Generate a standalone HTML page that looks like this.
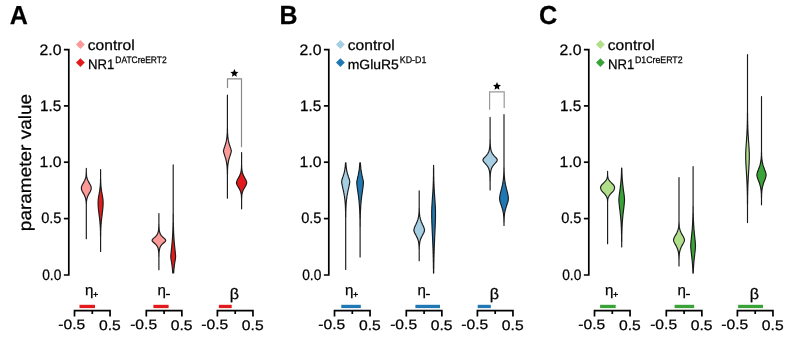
<!DOCTYPE html><html><head><meta charset="utf-8"><style>html,body{margin:0;padding:0;background:#fff;width:793px;height:337px;overflow:hidden;position:relative}text{font-family:"Liberation Sans",sans-serif;text-rendering:geometricPrecision;stroke:#000;stroke-width:0.25px}</style></head><body><svg width="793" height="337" viewBox="0 0 793 337" style="position:absolute;left:0;top:0;will-change:transform">
<rect width="793" height="337" fill="#fff"/>
<text x="9.63" y="24.20" font-family="Liberation Sans, sans-serif" font-weight="bold" font-size="26.06" textLength="18.09" lengthAdjust="spacingAndGlyphs" fill="#000">A</text>
<g stroke="#000" stroke-width="1.7" fill="none" stroke-linecap="butt">
<path d="M63.9,49.6 H68.8 V275.0 H63.9"/>
<path d="M63.9,105.9 H68.8"/>
<path d="M63.9,162.2 H68.8"/>
<path d="M63.9,218.6 H68.8"/>
</g>
<text x="39.49" y="54.60" font-family="Liberation Sans, sans-serif" font-weight="normal" font-size="15.11" textLength="21.97" lengthAdjust="spacingAndGlyphs" fill="#000">2.0</text>
<text x="39.91" y="110.69" font-family="Liberation Sans, sans-serif" font-weight="normal" font-size="15.29" textLength="21.37" lengthAdjust="spacingAndGlyphs" fill="#000">1.5</text>
<text x="39.64" y="166.95" font-family="Liberation Sans, sans-serif" font-weight="normal" font-size="15.13" textLength="21.93" lengthAdjust="spacingAndGlyphs" fill="#000">1.0</text>
<text x="41.19" y="223.28" font-family="Liberation Sans, sans-serif" font-weight="normal" font-size="15.19" textLength="20.30" lengthAdjust="spacingAndGlyphs" fill="#000">0.5</text>
<text x="42.17" y="279.74" font-family="Liberation Sans, sans-serif" font-weight="normal" font-size="15.07" textLength="19.16" lengthAdjust="spacingAndGlyphs" fill="#000">0.0</text>
<path d="M80.4,40.1 L84.8,44.5 L80.4,48.9 L76.0,44.5Z" fill="#fb9a99" transform="translate(0,0)"/>
<path d="M80.4,58.2 L84.8,62.6 L80.4,67.0 L76.0,62.6Z" fill="#e31a1c" transform="translate(0,0)"/>
<text x="87.81" y="49.80" font-family="Liberation Sans, sans-serif" font-weight="normal" font-size="14.63" textLength="46.81" lengthAdjust="spacingAndGlyphs" fill="#000">control</text>
<text x="87.89" y="69.03" font-family="Liberation Sans, sans-serif" font-weight="normal" font-size="13.68" textLength="26.33" lengthAdjust="spacingAndGlyphs" fill="#000">NR1</text>
<text x="115.29" y="63.03" font-family="Liberation Sans, sans-serif" font-weight="normal" font-size="9.44" textLength="51.35" lengthAdjust="spacingAndGlyphs" fill="#000">DATCreERT2</text>
<path d="M74.50,316.6 V310.7 H110.05 V316.6 M92.30,310.7 V314" stroke="#000" stroke-width="1.7" fill="none"/>
<text x="58.36" y="329.36" font-family="Liberation Sans, sans-serif" font-weight="normal" font-size="13.58" textLength="26.96" lengthAdjust="spacingAndGlyphs" fill="#000">-0.5</text>
<text x="98.94" y="329.65" font-family="Liberation Sans, sans-serif" font-weight="normal" font-size="13.83" textLength="21.79" lengthAdjust="spacingAndGlyphs" fill="#000">0.5</text>
<rect x="79.5" y="304.8" width="15.5" height="3.3" fill="#e31a1c"/>
<path d="M146.30,316.6 V310.7 H181.85 V316.6 M164.10,310.7 V314" stroke="#000" stroke-width="1.7" fill="none"/>
<text x="130.16" y="329.36" font-family="Liberation Sans, sans-serif" font-weight="normal" font-size="13.58" textLength="26.96" lengthAdjust="spacingAndGlyphs" fill="#000">-0.5</text>
<text x="170.74" y="329.65" font-family="Liberation Sans, sans-serif" font-weight="normal" font-size="13.83" textLength="21.79" lengthAdjust="spacingAndGlyphs" fill="#000">0.5</text>
<rect x="153.4" y="304.8" width="15.2" height="3.3" fill="#e31a1c"/>
<path d="M217.40,316.6 V310.7 H252.95 V316.6 M235.20,310.7 V314" stroke="#000" stroke-width="1.7" fill="none"/>
<text x="201.26" y="329.36" font-family="Liberation Sans, sans-serif" font-weight="normal" font-size="13.58" textLength="26.96" lengthAdjust="spacingAndGlyphs" fill="#000">-0.5</text>
<text x="241.84" y="329.65" font-family="Liberation Sans, sans-serif" font-weight="normal" font-size="13.83" textLength="21.79" lengthAdjust="spacingAndGlyphs" fill="#000">0.5</text>
<rect x="218.9" y="304.8" width="12.8" height="3.3" fill="#e31a1c"/>
<text x="85.02" y="294.91" font-family="Liberation Sans, sans-serif" font-weight="normal" font-size="14.76" textLength="8.41" lengthAdjust="spacingAndGlyphs" fill="#000">η</text>
<path d="M93.30,294.45 H98.00 M95.65,292.1 V296.8" stroke="#000" stroke-width="1" fill="none"/>
<text x="157.62" y="294.91" font-family="Liberation Sans, sans-serif" font-weight="normal" font-size="14.76" textLength="8.41" lengthAdjust="spacingAndGlyphs" fill="#000">η</text>
<path d="M165.90,294.5 H169.90" stroke="#000" stroke-width="1.3" fill="none"/>
<text x="229.87" y="298.89" font-family="Liberation Sans, sans-serif" font-weight="normal" font-size="15.28" textLength="9.25" lengthAdjust="spacingAndGlyphs" fill="#000">β</text>
<text x="279.52" y="24.20" font-family="Liberation Sans, sans-serif" font-weight="bold" font-size="26.32" textLength="17.99" lengthAdjust="spacingAndGlyphs" fill="#000">B</text>
<g stroke="#000" stroke-width="1.7" fill="none" stroke-linecap="butt">
<path d="M323.9,49.6 H328.8 V275.0 H323.9"/>
<path d="M323.9,105.9 H328.8"/>
<path d="M323.9,162.2 H328.8"/>
<path d="M323.9,218.6 H328.8"/>
</g>
<text x="299.49" y="54.60" font-family="Liberation Sans, sans-serif" font-weight="normal" font-size="15.11" textLength="21.97" lengthAdjust="spacingAndGlyphs" fill="#000">2.0</text>
<text x="299.91" y="110.69" font-family="Liberation Sans, sans-serif" font-weight="normal" font-size="15.29" textLength="21.37" lengthAdjust="spacingAndGlyphs" fill="#000">1.5</text>
<text x="299.64" y="166.95" font-family="Liberation Sans, sans-serif" font-weight="normal" font-size="15.13" textLength="21.93" lengthAdjust="spacingAndGlyphs" fill="#000">1.0</text>
<text x="301.19" y="223.28" font-family="Liberation Sans, sans-serif" font-weight="normal" font-size="15.19" textLength="20.30" lengthAdjust="spacingAndGlyphs" fill="#000">0.5</text>
<text x="302.17" y="279.74" font-family="Liberation Sans, sans-serif" font-weight="normal" font-size="15.07" textLength="19.16" lengthAdjust="spacingAndGlyphs" fill="#000">0.0</text>
<path d="M80.4,40.1 L84.8,44.5 L80.4,48.9 L76.0,44.5Z" fill="#a6cee3" transform="translate(260,0)"/>
<path d="M80.4,58.2 L84.8,62.6 L80.4,67.0 L76.0,62.6Z" fill="#1f78b4" transform="translate(260,0)"/>
<text x="347.81" y="49.80" font-family="Liberation Sans, sans-serif" font-weight="normal" font-size="14.63" textLength="46.81" lengthAdjust="spacingAndGlyphs" fill="#000">control</text>
<text x="347.75" y="68.63" font-family="Liberation Sans, sans-serif" font-weight="normal" font-size="13.30" textLength="51.14" lengthAdjust="spacingAndGlyphs" fill="#000">mGluR5</text>
<text x="399.76" y="63.03" font-family="Liberation Sans, sans-serif" font-weight="normal" font-size="9.64" textLength="26.60" lengthAdjust="spacingAndGlyphs" fill="#000">KD-D1</text>
<path d="M334.50,316.6 V310.7 H370.05 V316.6 M352.30,310.7 V314" stroke="#000" stroke-width="1.7" fill="none"/>
<text x="318.36" y="329.36" font-family="Liberation Sans, sans-serif" font-weight="normal" font-size="13.58" textLength="26.96" lengthAdjust="spacingAndGlyphs" fill="#000">-0.5</text>
<text x="358.94" y="329.65" font-family="Liberation Sans, sans-serif" font-weight="normal" font-size="13.83" textLength="21.79" lengthAdjust="spacingAndGlyphs" fill="#000">0.5</text>
<rect x="341.3" y="304.8" width="19.5" height="3.3" fill="#1f78b4"/>
<path d="M406.30,316.6 V310.7 H441.85 V316.6 M424.10,310.7 V314" stroke="#000" stroke-width="1.7" fill="none"/>
<text x="390.16" y="329.36" font-family="Liberation Sans, sans-serif" font-weight="normal" font-size="13.58" textLength="26.96" lengthAdjust="spacingAndGlyphs" fill="#000">-0.5</text>
<text x="430.74" y="329.65" font-family="Liberation Sans, sans-serif" font-weight="normal" font-size="13.83" textLength="21.79" lengthAdjust="spacingAndGlyphs" fill="#000">0.5</text>
<rect x="415.4" y="304.8" width="24.6" height="3.3" fill="#1f78b4"/>
<path d="M477.40,316.6 V310.7 H512.95 V316.6 M495.20,310.7 V314" stroke="#000" stroke-width="1.7" fill="none"/>
<text x="461.26" y="329.36" font-family="Liberation Sans, sans-serif" font-weight="normal" font-size="13.58" textLength="26.96" lengthAdjust="spacingAndGlyphs" fill="#000">-0.5</text>
<text x="501.84" y="329.65" font-family="Liberation Sans, sans-serif" font-weight="normal" font-size="13.83" textLength="21.79" lengthAdjust="spacingAndGlyphs" fill="#000">0.5</text>
<rect x="477.7" y="304.8" width="13.1" height="3.3" fill="#1f78b4"/>
<text x="345.02" y="294.91" font-family="Liberation Sans, sans-serif" font-weight="normal" font-size="14.76" textLength="8.41" lengthAdjust="spacingAndGlyphs" fill="#000">η</text>
<path d="M353.30,294.45 H358.00 M355.65,292.1 V296.8" stroke="#000" stroke-width="1" fill="none"/>
<text x="417.62" y="294.91" font-family="Liberation Sans, sans-serif" font-weight="normal" font-size="14.76" textLength="8.41" lengthAdjust="spacingAndGlyphs" fill="#000">η</text>
<path d="M425.90,294.5 H429.90" stroke="#000" stroke-width="1.3" fill="none"/>
<text x="489.87" y="298.89" font-family="Liberation Sans, sans-serif" font-weight="normal" font-size="15.28" textLength="9.25" lengthAdjust="spacingAndGlyphs" fill="#000">β</text>
<text x="538.89" y="24.41" font-family="Liberation Sans, sans-serif" font-weight="bold" font-size="26.05" textLength="18.21" lengthAdjust="spacingAndGlyphs" fill="#000">C</text>
<g stroke="#000" stroke-width="1.7" fill="none" stroke-linecap="butt">
<path d="M583.9,49.6 H588.8 V275.0 H583.9"/>
<path d="M583.9,105.9 H588.8"/>
<path d="M583.9,162.2 H588.8"/>
<path d="M583.9,218.6 H588.8"/>
</g>
<text x="559.49" y="54.60" font-family="Liberation Sans, sans-serif" font-weight="normal" font-size="15.11" textLength="21.97" lengthAdjust="spacingAndGlyphs" fill="#000">2.0</text>
<text x="559.91" y="110.69" font-family="Liberation Sans, sans-serif" font-weight="normal" font-size="15.29" textLength="21.37" lengthAdjust="spacingAndGlyphs" fill="#000">1.5</text>
<text x="559.64" y="166.95" font-family="Liberation Sans, sans-serif" font-weight="normal" font-size="15.13" textLength="21.93" lengthAdjust="spacingAndGlyphs" fill="#000">1.0</text>
<text x="561.19" y="223.28" font-family="Liberation Sans, sans-serif" font-weight="normal" font-size="15.19" textLength="20.30" lengthAdjust="spacingAndGlyphs" fill="#000">0.5</text>
<text x="562.17" y="279.74" font-family="Liberation Sans, sans-serif" font-weight="normal" font-size="15.07" textLength="19.16" lengthAdjust="spacingAndGlyphs" fill="#000">0.0</text>
<path d="M80.4,40.1 L84.8,44.5 L80.4,48.9 L76.0,44.5Z" fill="#b0de8a" transform="translate(520,0)"/>
<path d="M80.4,58.2 L84.8,62.6 L80.4,67.0 L76.0,62.6Z" fill="#3aa337" transform="translate(520,0)"/>
<text x="607.81" y="49.80" font-family="Liberation Sans, sans-serif" font-weight="normal" font-size="14.63" textLength="46.81" lengthAdjust="spacingAndGlyphs" fill="#000">control</text>
<text x="607.89" y="69.03" font-family="Liberation Sans, sans-serif" font-weight="normal" font-size="13.68" textLength="26.33" lengthAdjust="spacingAndGlyphs" fill="#000">NR1</text>
<text x="634.97" y="63.03" font-family="Liberation Sans, sans-serif" font-weight="normal" font-size="9.48" textLength="47.58" lengthAdjust="spacingAndGlyphs" fill="#000">D1CreERT2</text>
<path d="M594.50,316.6 V310.7 H630.05 V316.6 M612.30,310.7 V314" stroke="#000" stroke-width="1.7" fill="none"/>
<text x="578.36" y="329.36" font-family="Liberation Sans, sans-serif" font-weight="normal" font-size="13.58" textLength="26.96" lengthAdjust="spacingAndGlyphs" fill="#000">-0.5</text>
<text x="618.94" y="329.65" font-family="Liberation Sans, sans-serif" font-weight="normal" font-size="13.83" textLength="21.79" lengthAdjust="spacingAndGlyphs" fill="#000">0.5</text>
<rect x="600.1" y="304.8" width="15.6" height="3.3" fill="#3aa337"/>
<path d="M666.30,316.6 V310.7 H701.85 V316.6 M684.10,310.7 V314" stroke="#000" stroke-width="1.7" fill="none"/>
<text x="650.16" y="329.36" font-family="Liberation Sans, sans-serif" font-weight="normal" font-size="13.58" textLength="26.96" lengthAdjust="spacingAndGlyphs" fill="#000">-0.5</text>
<text x="690.74" y="329.65" font-family="Liberation Sans, sans-serif" font-weight="normal" font-size="13.83" textLength="21.79" lengthAdjust="spacingAndGlyphs" fill="#000">0.5</text>
<rect x="674.6" y="304.8" width="19.6" height="3.3" fill="#3aa337"/>
<path d="M737.40,316.6 V310.7 H772.95 V316.6 M755.20,310.7 V314" stroke="#000" stroke-width="1.7" fill="none"/>
<text x="721.26" y="329.36" font-family="Liberation Sans, sans-serif" font-weight="normal" font-size="13.58" textLength="26.96" lengthAdjust="spacingAndGlyphs" fill="#000">-0.5</text>
<text x="761.84" y="329.65" font-family="Liberation Sans, sans-serif" font-weight="normal" font-size="13.83" textLength="21.79" lengthAdjust="spacingAndGlyphs" fill="#000">0.5</text>
<rect x="738.1" y="304.8" width="24.9" height="3.3" fill="#3aa337"/>
<text x="605.02" y="294.91" font-family="Liberation Sans, sans-serif" font-weight="normal" font-size="14.76" textLength="8.41" lengthAdjust="spacingAndGlyphs" fill="#000">η</text>
<path d="M613.30,294.45 H618.00 M615.65,292.1 V296.8" stroke="#000" stroke-width="1" fill="none"/>
<text x="677.62" y="294.91" font-family="Liberation Sans, sans-serif" font-weight="normal" font-size="14.76" textLength="8.41" lengthAdjust="spacingAndGlyphs" fill="#000">η</text>
<path d="M685.90,294.5 H689.90" stroke="#000" stroke-width="1.3" fill="none"/>
<text x="749.87" y="298.89" font-family="Liberation Sans, sans-serif" font-weight="normal" font-size="15.28" textLength="9.25" lengthAdjust="spacingAndGlyphs" fill="#000">β</text>
<text transform="translate(30.88,231.16) rotate(-90)" x="0" y="0" font-family="Liberation Sans, sans-serif" font-size="17.50" textLength="137.19" lengthAdjust="spacingAndGlyphs">parameter value</text>
<path d="M227.5,87.9 V78.8 H241.5 V147.2" stroke="#8a8a8a" stroke-width="1.2" fill="none"/>
<path d="M489.6,109.7 V91.9 H504.2 V107.9" stroke="#999" stroke-width="1.2" fill="none"/>
<path d="M234.40,69.10 L235.56,71.70 L238.39,72.00 L236.28,73.91 L236.87,76.70 L234.40,75.27 L231.93,76.70 L232.52,73.91 L230.41,72.00 L233.24,71.70Z" fill="#000"/>
<path d="M497.00,82.10 L498.16,84.70 L500.99,85.00 L498.88,86.91 L499.47,89.70 L497.00,88.27 L494.53,89.70 L495.12,86.91 L493.01,85.00 L495.84,84.70Z" fill="#000"/>
<path d="M86.3,168.3 L86.3,169.0 L86.3,169.7 L86.3,170.4 L86.3,171.1 L86.3,171.8 L86.2,172.5 L86.2,173.2 L86.2,173.9 L86.1,174.6 L86.1,175.3 L86.0,176.0 L85.9,176.7 L85.7,177.5 L85.5,178.2 L85.3,178.9 L85.1,179.6 L84.8,180.3 L84.4,181.0 L84.0,181.7 L83.7,182.4 L83.3,183.1 L82.9,183.8 L82.5,184.5 L82.1,185.2 L81.8,185.9 L81.6,186.6 L81.4,187.3 L81.4,188.0 L81.4,188.7 L81.5,189.4 L81.7,190.1 L82.0,190.8 L82.3,191.5 L82.7,192.2 L83.1,192.9 L83.5,193.6 L83.9,194.3 L84.3,195.1 L84.6,195.8 L84.9,196.5 L85.2,197.2 L85.4,197.9 L85.6,198.6 L85.8,199.3 L85.9,200.0 L86.0,200.7 L86.1,201.4 L86.2,202.1 L86.2,202.8 L86.2,203.5 L86.3,204.2 L86.3,204.9 L86.3,205.6 L86.3,206.3 L86.3,207.0 L86.3,207.7 L86.3,208.4 L86.3,209.1 L86.3,209.8 L86.3,210.5 L86.3,211.2 L86.3,211.9 L86.3,212.7 L86.3,213.4 L86.3,214.1 L86.3,214.8 L86.3,215.5 L86.3,216.2 L86.3,216.9 L86.3,217.6 L86.3,218.3 L86.3,219.0 L86.3,219.7 L86.3,220.4 L86.3,221.1 L86.3,221.8 L86.3,222.5 L86.3,223.2 L86.3,223.9 L86.3,224.6 L86.3,225.3 L86.3,226.0 L86.3,226.7 L86.3,227.4 L86.3,228.1 L86.3,228.8 L86.3,229.5 L86.3,230.3 L86.3,231.0 L86.3,231.7 L86.3,232.4 L86.3,233.1 L86.3,233.8 L86.3,234.5 L86.3,235.2 L86.3,235.9 L86.3,236.6 L86.3,237.3 L86.3,238.0 L86.3,238.7 L86.3,238.7 L86.3,238.0 L86.3,237.3 L86.3,236.6 L86.3,235.9 L86.3,235.2 L86.3,234.5 L86.3,233.8 L86.3,233.1 L86.3,232.4 L86.3,231.7 L86.3,231.0 L86.3,230.3 L86.3,229.5 L86.3,228.8 L86.3,228.1 L86.3,227.4 L86.3,226.7 L86.3,226.0 L86.3,225.3 L86.3,224.6 L86.3,223.9 L86.3,223.2 L86.3,222.5 L86.3,221.8 L86.3,221.1 L86.3,220.4 L86.3,219.7 L86.3,219.0 L86.3,218.3 L86.3,217.6 L86.3,216.9 L86.3,216.2 L86.3,215.5 L86.3,214.8 L86.3,214.1 L86.3,213.4 L86.3,212.7 L86.3,211.9 L86.3,211.2 L86.3,210.5 L86.3,209.8 L86.3,209.1 L86.3,208.4 L86.3,207.7 L86.3,207.0 L86.3,206.3 L86.3,205.6 L86.3,204.9 L86.3,204.2 L86.4,203.5 L86.4,202.8 L86.4,202.1 L86.5,201.4 L86.6,200.7 L86.7,200.0 L86.8,199.3 L87.0,198.6 L87.2,197.9 L87.4,197.2 L87.7,196.5 L88.0,195.8 L88.3,195.1 L88.7,194.3 L89.1,193.6 L89.5,192.9 L89.9,192.2 L90.3,191.5 L90.6,190.8 L90.9,190.1 L91.1,189.4 L91.2,188.7 L91.2,188.0 L91.2,187.3 L91.0,186.6 L90.8,185.9 L90.5,185.2 L90.1,184.5 L89.7,183.8 L89.3,183.1 L88.9,182.4 L88.6,181.7 L88.2,181.0 L87.8,180.3 L87.5,179.6 L87.3,178.9 L87.1,178.2 L86.9,177.5 L86.7,176.7 L86.6,176.0 L86.5,175.3 L86.5,174.6 L86.4,173.9 L86.4,173.2 L86.4,172.5 L86.3,171.8 L86.3,171.1 L86.3,170.4 L86.3,169.7 L86.3,169.0 L86.3,168.3Z" fill="#fb9a99" stroke="#1a1a1a" stroke-width="1.15" stroke-linejoin="round"/>
<path d="M100.6,169.5 L100.6,170.2 L100.6,170.9 L100.6,171.6 L100.6,172.3 L100.6,173.0 L100.6,173.7 L100.6,174.4 L100.6,175.1 L100.6,175.8 L100.6,176.5 L100.6,177.2 L100.6,177.9 L100.6,178.6 L100.5,179.3 L100.5,180.0 L100.5,180.7 L100.5,181.4 L100.5,182.1 L100.4,182.8 L100.4,183.5 L100.4,184.2 L100.3,184.9 L100.3,185.6 L100.2,186.3 L100.1,187.0 L100.1,187.7 L100.0,188.4 L99.9,189.1 L99.8,189.8 L99.7,190.5 L99.6,191.2 L99.5,191.9 L99.3,192.6 L99.2,193.3 L99.1,194.0 L99.0,194.7 L98.8,195.4 L98.7,196.1 L98.6,196.8 L98.5,197.5 L98.4,198.2 L98.3,198.9 L98.2,199.6 L98.2,200.3 L98.1,201.0 L98.1,201.7 L98.1,202.4 L98.1,203.1 L98.1,203.8 L98.1,204.5 L98.1,205.2 L98.2,205.9 L98.2,206.6 L98.3,207.3 L98.3,208.0 L98.4,208.7 L98.5,209.4 L98.5,210.1 L98.6,210.8 L98.7,211.5 L98.8,212.2 L98.9,212.9 L99.0,213.6 L99.0,214.3 L99.1,215.0 L99.2,215.7 L99.3,216.4 L99.4,217.1 L99.5,217.8 L99.6,218.5 L99.6,219.2 L99.7,219.9 L99.8,220.6 L99.9,221.3 L99.9,222.0 L100.0,222.7 L100.0,223.4 L100.1,224.1 L100.2,224.8 L100.2,225.5 L100.2,226.2 L100.3,226.9 L100.3,227.6 L100.4,228.3 L100.4,229.0 L100.4,229.7 L100.4,230.4 L100.5,231.1 L100.5,231.8 L100.5,232.5 L100.5,233.2 L100.5,233.9 L100.5,234.6 L100.5,235.3 L100.5,236.0 L100.6,236.7 L100.6,237.4 L100.6,238.1 L100.6,238.8 L100.6,239.5 L100.6,240.2 L100.6,240.9 L100.6,241.6 L100.6,242.3 L100.6,243.0 L100.6,243.7 L100.6,244.4 L100.6,245.1 L100.6,245.8 L100.6,246.5 L100.6,247.2 L100.6,247.9 L100.6,248.6 L100.6,249.3 L100.6,250.0 L100.6,250.7 L100.6,251.4 L100.6,251.4 L100.6,250.7 L100.6,250.0 L100.6,249.3 L100.6,248.6 L100.6,247.9 L100.6,247.2 L100.6,246.5 L100.6,245.8 L100.6,245.1 L100.6,244.4 L100.6,243.7 L100.6,243.0 L100.6,242.3 L100.6,241.6 L100.6,240.9 L100.6,240.2 L100.6,239.5 L100.6,238.8 L100.6,238.1 L100.6,237.4 L100.6,236.7 L100.7,236.0 L100.7,235.3 L100.7,234.6 L100.7,233.9 L100.7,233.2 L100.7,232.5 L100.7,231.8 L100.7,231.1 L100.8,230.4 L100.8,229.7 L100.8,229.0 L100.8,228.3 L100.9,227.6 L100.9,226.9 L101.0,226.2 L101.0,225.5 L101.0,224.8 L101.1,224.1 L101.2,223.4 L101.2,222.7 L101.3,222.0 L101.3,221.3 L101.4,220.6 L101.5,219.9 L101.6,219.2 L101.6,218.5 L101.7,217.8 L101.8,217.1 L101.9,216.4 L102.0,215.7 L102.1,215.0 L102.2,214.3 L102.2,213.6 L102.3,212.9 L102.4,212.2 L102.5,211.5 L102.6,210.8 L102.7,210.1 L102.7,209.4 L102.8,208.7 L102.9,208.0 L102.9,207.3 L103.0,206.6 L103.0,205.9 L103.1,205.2 L103.1,204.5 L103.1,203.8 L103.1,203.1 L103.1,202.4 L103.1,201.7 L103.1,201.0 L103.0,200.3 L103.0,199.6 L102.9,198.9 L102.8,198.2 L102.7,197.5 L102.6,196.8 L102.5,196.1 L102.4,195.4 L102.2,194.7 L102.1,194.0 L102.0,193.3 L101.9,192.6 L101.7,191.9 L101.6,191.2 L101.5,190.5 L101.4,189.8 L101.3,189.1 L101.2,188.4 L101.1,187.7 L101.1,187.0 L101.0,186.3 L100.9,185.6 L100.9,184.9 L100.8,184.2 L100.8,183.5 L100.8,182.8 L100.7,182.1 L100.7,181.4 L100.7,180.7 L100.7,180.0 L100.7,179.3 L100.6,178.6 L100.6,177.9 L100.6,177.2 L100.6,176.5 L100.6,175.8 L100.6,175.1 L100.6,174.4 L100.6,173.7 L100.6,173.0 L100.6,172.3 L100.6,171.6 L100.6,170.9 L100.6,170.2 L100.6,169.5Z" fill="#e31a1c" stroke="#1a1a1a" stroke-width="1.15" stroke-linejoin="round"/>
<path d="M158.9,213.5 L158.9,214.2 L158.9,214.9 L158.9,215.6 L158.9,216.3 L158.9,217.0 L158.9,217.7 L158.9,218.4 L158.9,219.1 L158.9,219.8 L158.9,220.5 L158.9,221.2 L158.9,221.9 L158.9,222.6 L158.9,223.3 L158.9,224.0 L158.8,224.7 L158.8,225.4 L158.8,226.1 L158.8,226.8 L158.7,227.6 L158.7,228.3 L158.6,229.0 L158.6,229.7 L158.5,230.4 L158.4,231.1 L158.2,231.8 L158.0,232.5 L157.8,233.2 L157.5,233.9 L157.1,234.6 L156.7,235.3 L156.1,236.0 L155.4,236.7 L154.6,237.4 L153.8,238.1 L153.0,238.8 L152.4,239.5 L152.1,240.2 L152.2,240.9 L152.6,241.6 L153.4,242.3 L154.2,243.0 L155.0,243.7 L155.7,244.4 L156.4,245.1 L156.9,245.8 L157.3,246.5 L157.7,247.2 L157.9,247.9 L158.1,248.6 L158.3,249.3 L158.4,250.0 L158.5,250.7 L158.6,251.4 L158.7,252.1 L158.7,252.8 L158.8,253.5 L158.8,254.2 L158.8,254.9 L158.8,255.6 L158.8,256.4 L158.9,257.1 L158.9,257.8 L158.9,258.5 L158.9,259.2 L158.9,259.9 L158.9,260.6 L158.9,261.3 L158.9,262.0 L158.9,262.7 L158.9,263.4 L158.9,264.1 L158.9,264.8 L158.9,265.5 L158.9,266.2 L158.9,266.9 L158.9,267.6 L158.9,268.3 L158.9,269.0 L158.9,269.7 L158.9,269.7 L158.9,269.0 L158.9,268.3 L158.9,267.6 L158.9,266.9 L158.9,266.2 L158.9,265.5 L158.9,264.8 L158.9,264.1 L158.9,263.4 L158.9,262.7 L158.9,262.0 L158.9,261.3 L158.9,260.6 L158.9,259.9 L158.9,259.2 L158.9,258.5 L158.9,257.8 L158.9,257.1 L159.0,256.4 L159.0,255.6 L159.0,254.9 L159.0,254.2 L159.0,253.5 L159.1,252.8 L159.1,252.1 L159.2,251.4 L159.3,250.7 L159.4,250.0 L159.5,249.3 L159.7,248.6 L159.9,247.9 L160.1,247.2 L160.5,246.5 L160.9,245.8 L161.4,245.1 L162.1,244.4 L162.8,243.7 L163.6,243.0 L164.4,242.3 L165.2,241.6 L165.6,240.9 L165.7,240.2 L165.4,239.5 L164.8,238.8 L164.0,238.1 L163.2,237.4 L162.4,236.7 L161.7,236.0 L161.1,235.3 L160.7,234.6 L160.3,233.9 L160.0,233.2 L159.8,232.5 L159.6,231.8 L159.4,231.1 L159.3,230.4 L159.2,229.7 L159.2,229.0 L159.1,228.3 L159.1,227.6 L159.0,226.8 L159.0,226.1 L159.0,225.4 L159.0,224.7 L158.9,224.0 L158.9,223.3 L158.9,222.6 L158.9,221.9 L158.9,221.2 L158.9,220.5 L158.9,219.8 L158.9,219.1 L158.9,218.4 L158.9,217.7 L158.9,217.0 L158.9,216.3 L158.9,215.6 L158.9,214.9 L158.9,214.2 L158.9,213.5Z" fill="#fb9a99" stroke="#1a1a1a" stroke-width="1.15" stroke-linejoin="round"/>
<path d="M173.2,164.9 L173.2,165.6 L173.2,166.3 L173.2,167.0 L173.2,167.7 L173.2,168.4 L173.2,169.1 L173.2,169.8 L173.2,170.5 L173.2,171.2 L173.2,171.9 L173.2,172.6 L173.2,173.3 L173.2,174.0 L173.2,174.7 L173.2,175.4 L173.2,176.1 L173.2,176.8 L173.2,177.5 L173.2,178.2 L173.2,178.9 L173.2,179.6 L173.2,180.3 L173.2,181.0 L173.2,181.7 L173.2,182.4 L173.2,183.1 L173.2,183.8 L173.2,184.5 L173.2,185.2 L173.2,185.9 L173.2,186.6 L173.2,187.3 L173.2,188.0 L173.2,188.7 L173.2,189.4 L173.2,190.1 L173.2,190.8 L173.2,191.5 L173.2,192.3 L173.2,193.0 L173.2,193.7 L173.2,194.4 L173.2,195.1 L173.2,195.8 L173.2,196.5 L173.2,197.2 L173.2,197.9 L173.2,198.6 L173.2,199.3 L173.2,200.0 L173.2,200.7 L173.2,201.4 L173.2,202.1 L173.2,202.8 L173.2,203.5 L173.2,204.2 L173.2,204.9 L173.2,205.6 L173.2,206.3 L173.2,207.0 L173.2,207.7 L173.2,208.4 L173.2,209.1 L173.2,209.8 L173.2,210.5 L173.2,211.2 L173.2,211.9 L173.2,212.6 L173.2,213.3 L173.1,214.0 L173.1,214.7 L173.1,215.4 L173.1,216.1 L173.1,216.8 L173.1,217.5 L173.1,218.2 L173.1,218.9 L173.1,219.6 L173.1,220.3 L173.1,221.0 L173.1,221.7 L173.1,222.4 L173.0,223.1 L173.0,223.8 L173.0,224.5 L173.0,225.2 L173.0,225.9 L173.0,226.6 L172.9,227.3 L172.9,228.0 L172.9,228.7 L172.9,229.4 L172.9,230.1 L172.8,230.8 L172.8,231.5 L172.8,232.2 L172.8,232.9 L172.7,233.6 L172.7,234.3 L172.6,235.0 L172.6,235.7 L172.6,236.4 L172.5,237.1 L172.5,237.8 L172.4,238.5 L172.4,239.2 L172.3,239.9 L172.3,240.6 L172.2,241.3 L172.2,242.0 L172.1,242.7 L172.0,243.4 L172.0,244.1 L171.9,244.8 L171.8,245.5 L171.8,246.3 L171.7,247.0 L171.6,247.7 L171.5,248.4 L171.5,249.1 L171.4,249.8 L171.3,250.5 L171.2,251.2 L171.2,251.9 L171.1,252.6 L171.0,253.3 L171.0,254.0 L170.9,254.7 L170.8,255.4 L170.8,256.1 L170.8,256.8 L170.8,257.5 L170.9,258.2 L171.0,258.9 L171.1,259.6 L171.2,260.3 L171.3,261.0 L171.5,261.7 L171.6,262.4 L171.7,263.1 L171.8,263.8 L171.9,264.5 L172.0,265.2 L172.1,265.9 L172.2,266.6 L172.2,267.3 L172.3,268.0 L172.4,268.7 L172.5,269.4 L172.5,270.1 L172.6,270.8 L172.6,271.5 L172.7,272.2 L172.7,272.9 L173.7,272.9 L173.7,272.2 L173.8,271.5 L173.8,270.8 L173.9,270.1 L173.9,269.4 L174.0,268.7 L174.1,268.0 L174.2,267.3 L174.2,266.6 L174.3,265.9 L174.4,265.2 L174.5,264.5 L174.6,263.8 L174.7,263.1 L174.8,262.4 L174.9,261.7 L175.1,261.0 L175.2,260.3 L175.3,259.6 L175.4,258.9 L175.5,258.2 L175.6,257.5 L175.6,256.8 L175.6,256.1 L175.6,255.4 L175.5,254.7 L175.4,254.0 L175.4,253.3 L175.3,252.6 L175.2,251.9 L175.2,251.2 L175.1,250.5 L175.0,249.8 L174.9,249.1 L174.9,248.4 L174.8,247.7 L174.7,247.0 L174.6,246.3 L174.6,245.5 L174.5,244.8 L174.4,244.1 L174.4,243.4 L174.3,242.7 L174.2,242.0 L174.2,241.3 L174.1,240.6 L174.1,239.9 L174.0,239.2 L174.0,238.5 L173.9,237.8 L173.9,237.1 L173.8,236.4 L173.8,235.7 L173.8,235.0 L173.7,234.3 L173.7,233.6 L173.6,232.9 L173.6,232.2 L173.6,231.5 L173.6,230.8 L173.5,230.1 L173.5,229.4 L173.5,228.7 L173.5,228.0 L173.5,227.3 L173.4,226.6 L173.4,225.9 L173.4,225.2 L173.4,224.5 L173.4,223.8 L173.4,223.1 L173.3,222.4 L173.3,221.7 L173.3,221.0 L173.3,220.3 L173.3,219.6 L173.3,218.9 L173.3,218.2 L173.3,217.5 L173.3,216.8 L173.3,216.1 L173.3,215.4 L173.3,214.7 L173.3,214.0 L173.2,213.3 L173.2,212.6 L173.2,211.9 L173.2,211.2 L173.2,210.5 L173.2,209.8 L173.2,209.1 L173.2,208.4 L173.2,207.7 L173.2,207.0 L173.2,206.3 L173.2,205.6 L173.2,204.9 L173.2,204.2 L173.2,203.5 L173.2,202.8 L173.2,202.1 L173.2,201.4 L173.2,200.7 L173.2,200.0 L173.2,199.3 L173.2,198.6 L173.2,197.9 L173.2,197.2 L173.2,196.5 L173.2,195.8 L173.2,195.1 L173.2,194.4 L173.2,193.7 L173.2,193.0 L173.2,192.3 L173.2,191.5 L173.2,190.8 L173.2,190.1 L173.2,189.4 L173.2,188.7 L173.2,188.0 L173.2,187.3 L173.2,186.6 L173.2,185.9 L173.2,185.2 L173.2,184.5 L173.2,183.8 L173.2,183.1 L173.2,182.4 L173.2,181.7 L173.2,181.0 L173.2,180.3 L173.2,179.6 L173.2,178.9 L173.2,178.2 L173.2,177.5 L173.2,176.8 L173.2,176.1 L173.2,175.4 L173.2,174.7 L173.2,174.0 L173.2,173.3 L173.2,172.6 L173.2,171.9 L173.2,171.2 L173.2,170.5 L173.2,169.8 L173.2,169.1 L173.2,168.4 L173.2,167.7 L173.2,167.0 L173.2,166.3 L173.2,165.6 L173.2,164.9Z" fill="#e31a1c" stroke="#1a1a1a" stroke-width="1.15" stroke-linejoin="round"/>
<path d="M227.4,95.1 L227.4,95.8 L227.4,96.5 L227.4,97.2 L227.4,97.9 L227.4,98.6 L227.4,99.3 L227.4,100.0 L227.4,100.7 L227.4,101.4 L227.4,102.1 L227.4,102.8 L227.4,103.5 L227.4,104.2 L227.4,104.9 L227.4,105.6 L227.4,106.3 L227.4,107.0 L227.4,107.7 L227.4,108.4 L227.4,109.1 L227.4,109.8 L227.4,110.5 L227.4,111.2 L227.4,111.9 L227.4,112.6 L227.4,113.3 L227.4,114.0 L227.4,114.7 L227.4,115.4 L227.4,116.1 L227.4,116.8 L227.4,117.5 L227.4,118.2 L227.4,118.9 L227.4,119.6 L227.4,120.3 L227.4,121.1 L227.4,121.8 L227.4,122.5 L227.4,123.2 L227.4,123.9 L227.4,124.6 L227.4,125.3 L227.4,126.0 L227.4,126.7 L227.4,127.4 L227.4,128.1 L227.3,128.8 L227.3,129.5 L227.3,130.2 L227.3,130.9 L227.3,131.6 L227.3,132.3 L227.2,133.0 L227.2,133.7 L227.1,134.4 L227.1,135.1 L227.0,135.8 L227.0,136.5 L226.9,137.2 L226.8,137.9 L226.7,138.6 L226.6,139.3 L226.5,140.0 L226.4,140.7 L226.2,141.4 L226.1,142.1 L225.9,142.8 L225.7,143.5 L225.5,144.2 L225.3,144.9 L225.1,145.6 L224.8,146.3 L224.6,147.0 L224.3,147.7 L224.1,148.4 L223.9,149.1 L223.7,149.8 L223.5,150.5 L223.5,151.2 L223.6,151.9 L223.8,152.6 L224.0,153.3 L224.2,154.0 L224.4,154.7 L224.6,155.4 L224.9,156.1 L225.1,156.8 L225.3,157.5 L225.6,158.2 L225.8,158.9 L225.9,159.6 L226.1,160.3 L226.3,161.0 L226.4,161.7 L226.5,162.4 L226.6,163.1 L226.8,163.8 L226.8,164.5 L226.9,165.2 L227.0,165.9 L227.1,166.6 L227.1,167.3 L227.2,168.0 L227.2,168.7 L227.2,169.4 L227.3,170.1 L227.3,170.8 L227.3,171.5 L227.3,172.2 L227.3,173.0 L227.3,173.7 L227.4,174.4 L227.4,175.1 L227.4,175.8 L227.4,176.5 L227.4,177.2 L227.4,177.9 L227.4,178.6 L227.4,179.3 L227.4,180.0 L227.4,180.7 L227.4,181.4 L227.4,182.1 L227.4,182.8 L227.4,183.5 L227.4,184.2 L227.4,184.9 L227.4,185.6 L227.4,186.3 L227.4,187.0 L227.4,187.7 L227.4,188.4 L227.4,189.1 L227.4,189.8 L227.4,190.5 L227.4,191.2 L227.4,191.9 L227.4,192.6 L227.4,193.3 L227.4,194.0 L227.4,194.7 L227.4,195.4 L227.4,196.1 L227.4,196.8 L227.4,197.5 L227.4,198.2 L227.4,198.2 L227.4,197.5 L227.4,196.8 L227.4,196.1 L227.4,195.4 L227.4,194.7 L227.4,194.0 L227.4,193.3 L227.4,192.6 L227.4,191.9 L227.4,191.2 L227.4,190.5 L227.4,189.8 L227.4,189.1 L227.4,188.4 L227.4,187.7 L227.4,187.0 L227.4,186.3 L227.4,185.6 L227.4,184.9 L227.4,184.2 L227.4,183.5 L227.4,182.8 L227.4,182.1 L227.4,181.4 L227.4,180.7 L227.4,180.0 L227.4,179.3 L227.4,178.6 L227.4,177.9 L227.4,177.2 L227.4,176.5 L227.4,175.8 L227.4,175.1 L227.4,174.4 L227.5,173.7 L227.5,173.0 L227.5,172.2 L227.5,171.5 L227.5,170.8 L227.5,170.1 L227.6,169.4 L227.6,168.7 L227.6,168.0 L227.7,167.3 L227.7,166.6 L227.8,165.9 L227.9,165.2 L228.0,164.5 L228.0,163.8 L228.2,163.1 L228.3,162.4 L228.4,161.7 L228.5,161.0 L228.7,160.3 L228.9,159.6 L229.0,158.9 L229.2,158.2 L229.5,157.5 L229.7,156.8 L229.9,156.1 L230.2,155.4 L230.4,154.7 L230.6,154.0 L230.8,153.3 L231.0,152.6 L231.2,151.9 L231.3,151.2 L231.3,150.5 L231.1,149.8 L230.9,149.1 L230.7,148.4 L230.5,147.7 L230.2,147.0 L230.0,146.3 L229.7,145.6 L229.5,144.9 L229.3,144.2 L229.1,143.5 L228.9,142.8 L228.7,142.1 L228.6,141.4 L228.4,140.7 L228.3,140.0 L228.2,139.3 L228.1,138.6 L228.0,137.9 L227.9,137.2 L227.8,136.5 L227.8,135.8 L227.7,135.1 L227.7,134.4 L227.6,133.7 L227.6,133.0 L227.5,132.3 L227.5,131.6 L227.5,130.9 L227.5,130.2 L227.5,129.5 L227.5,128.8 L227.4,128.1 L227.4,127.4 L227.4,126.7 L227.4,126.0 L227.4,125.3 L227.4,124.6 L227.4,123.9 L227.4,123.2 L227.4,122.5 L227.4,121.8 L227.4,121.1 L227.4,120.3 L227.4,119.6 L227.4,118.9 L227.4,118.2 L227.4,117.5 L227.4,116.8 L227.4,116.1 L227.4,115.4 L227.4,114.7 L227.4,114.0 L227.4,113.3 L227.4,112.6 L227.4,111.9 L227.4,111.2 L227.4,110.5 L227.4,109.8 L227.4,109.1 L227.4,108.4 L227.4,107.7 L227.4,107.0 L227.4,106.3 L227.4,105.6 L227.4,104.9 L227.4,104.2 L227.4,103.5 L227.4,102.8 L227.4,102.1 L227.4,101.4 L227.4,100.7 L227.4,100.0 L227.4,99.3 L227.4,98.6 L227.4,97.9 L227.4,97.2 L227.4,96.5 L227.4,95.8 L227.4,95.1Z" fill="#fb9a99" stroke="#1a1a1a" stroke-width="1.15" stroke-linejoin="round"/>
<path d="M241.6,152.5 L241.6,153.2 L241.6,153.9 L241.6,154.6 L241.6,155.3 L241.6,156.0 L241.6,156.7 L241.6,157.4 L241.6,158.1 L241.6,158.8 L241.6,159.5 L241.6,160.2 L241.6,160.9 L241.6,161.6 L241.6,162.4 L241.6,163.1 L241.6,163.8 L241.6,164.5 L241.6,165.2 L241.5,165.9 L241.5,166.6 L241.5,167.3 L241.5,168.0 L241.4,168.7 L241.3,169.4 L241.3,170.1 L241.2,170.8 L241.0,171.5 L240.9,172.2 L240.7,172.9 L240.5,173.6 L240.2,174.3 L239.9,175.0 L239.6,175.7 L239.3,176.4 L238.9,177.1 L238.5,177.8 L238.1,178.5 L237.7,179.2 L237.3,179.9 L237.0,180.7 L236.7,181.4 L236.6,182.1 L236.5,182.8 L236.6,183.5 L236.8,184.2 L237.1,184.9 L237.4,185.6 L237.8,186.3 L238.2,187.0 L238.7,187.7 L239.1,188.4 L239.5,189.1 L239.8,189.8 L240.2,190.5 L240.4,191.2 L240.7,191.9 L240.9,192.6 L241.0,193.3 L241.2,194.0 L241.3,194.7 L241.4,195.4 L241.4,196.1 L241.5,196.8 L241.5,197.5 L241.5,198.2 L241.6,198.9 L241.6,199.7 L241.6,200.4 L241.6,201.1 L241.6,201.8 L241.6,202.5 L241.6,203.2 L241.6,203.9 L241.6,204.6 L241.6,205.3 L241.6,206.0 L241.6,206.7 L241.6,207.4 L241.6,208.1 L241.6,208.8 L241.6,208.8 L241.6,208.1 L241.6,207.4 L241.6,206.7 L241.6,206.0 L241.6,205.3 L241.6,204.6 L241.6,203.9 L241.6,203.2 L241.6,202.5 L241.6,201.8 L241.6,201.1 L241.6,200.4 L241.6,199.7 L241.6,198.9 L241.7,198.2 L241.7,197.5 L241.7,196.8 L241.8,196.1 L241.8,195.4 L241.9,194.7 L242.0,194.0 L242.2,193.3 L242.3,192.6 L242.5,191.9 L242.8,191.2 L243.0,190.5 L243.4,189.8 L243.7,189.1 L244.1,188.4 L244.5,187.7 L245.0,187.0 L245.4,186.3 L245.8,185.6 L246.1,184.9 L246.4,184.2 L246.6,183.5 L246.7,182.8 L246.6,182.1 L246.5,181.4 L246.2,180.7 L245.9,179.9 L245.5,179.2 L245.1,178.5 L244.7,177.8 L244.3,177.1 L243.9,176.4 L243.6,175.7 L243.3,175.0 L243.0,174.3 L242.7,173.6 L242.5,172.9 L242.3,172.2 L242.2,171.5 L242.0,170.8 L241.9,170.1 L241.9,169.4 L241.8,168.7 L241.7,168.0 L241.7,167.3 L241.7,166.6 L241.7,165.9 L241.6,165.2 L241.6,164.5 L241.6,163.8 L241.6,163.1 L241.6,162.4 L241.6,161.6 L241.6,160.9 L241.6,160.2 L241.6,159.5 L241.6,158.8 L241.6,158.1 L241.6,157.4 L241.6,156.7 L241.6,156.0 L241.6,155.3 L241.6,154.6 L241.6,153.9 L241.6,153.2 L241.6,152.5Z" fill="#e31a1c" stroke="#1a1a1a" stroke-width="1.15" stroke-linejoin="round"/>
<path d="M345.5,162.7 L345.5,163.4 L345.4,164.1 L345.4,164.8 L345.3,165.5 L345.3,166.2 L345.2,166.9 L345.1,167.6 L345.0,168.3 L344.9,169.0 L344.8,169.7 L344.7,170.4 L344.6,171.1 L344.4,171.8 L344.2,172.5 L344.1,173.2 L343.9,173.9 L343.7,174.6 L343.4,175.3 L343.2,176.0 L343.0,176.7 L342.7,177.4 L342.5,178.1 L342.3,178.8 L342.0,179.5 L341.9,180.2 L341.7,181.0 L341.6,181.7 L341.7,182.4 L341.8,183.1 L341.9,183.8 L342.0,184.5 L342.2,185.2 L342.3,185.9 L342.5,186.6 L342.6,187.3 L342.8,188.0 L342.9,188.7 L343.1,189.4 L343.3,190.1 L343.4,190.8 L343.6,191.5 L343.7,192.2 L343.8,192.9 L344.0,193.6 L344.1,194.3 L344.2,195.0 L344.3,195.7 L344.5,196.4 L344.6,197.1 L344.6,197.8 L344.7,198.5 L344.8,199.2 L344.9,199.9 L345.0,200.6 L345.0,201.3 L345.1,202.0 L345.2,202.7 L345.2,203.4 L345.3,204.1 L345.3,204.8 L345.3,205.5 L345.4,206.2 L345.4,206.9 L345.4,207.6 L345.5,208.3 L345.5,209.0 L345.5,209.7 L345.5,210.4 L345.6,211.1 L345.6,211.8 L345.6,212.5 L345.6,213.2 L345.6,213.9 L345.6,214.6 L345.6,215.3 L345.6,216.0 L345.6,216.8 L345.7,217.5 L345.7,218.2 L345.7,218.9 L345.7,219.6 L345.7,220.3 L345.7,221.0 L345.7,221.7 L345.7,222.4 L345.7,223.1 L345.7,223.8 L345.7,224.5 L345.7,225.2 L345.7,225.9 L345.7,226.6 L345.7,227.3 L345.7,228.0 L345.7,228.7 L345.7,229.4 L345.7,230.1 L345.7,230.8 L345.7,231.5 L345.7,232.2 L345.7,232.9 L345.7,233.6 L345.7,234.3 L345.7,235.0 L345.7,235.7 L345.7,236.4 L345.7,237.1 L345.7,237.8 L345.7,238.5 L345.7,239.2 L345.7,239.9 L345.7,240.6 L345.7,241.3 L345.7,242.0 L345.7,242.7 L345.7,243.4 L345.7,244.1 L345.7,244.8 L345.7,245.5 L345.7,246.2 L345.7,246.9 L345.7,247.6 L345.7,248.3 L345.7,249.0 L345.7,249.7 L345.7,250.4 L345.7,251.1 L345.7,251.9 L345.7,252.6 L345.7,253.3 L345.7,254.0 L345.7,254.7 L345.7,255.4 L345.7,256.1 L345.7,256.8 L345.7,257.5 L345.7,258.2 L345.7,258.9 L345.7,259.6 L345.7,260.3 L345.7,261.0 L345.7,261.7 L345.7,262.4 L345.7,263.1 L345.7,263.8 L345.7,264.5 L345.7,265.2 L345.7,265.9 L345.7,266.6 L345.7,267.3 L345.7,268.0 L345.7,268.7 L345.7,269.4 L345.7,269.4 L345.7,268.7 L345.7,268.0 L345.7,267.3 L345.7,266.6 L345.7,265.9 L345.7,265.2 L345.7,264.5 L345.7,263.8 L345.7,263.1 L345.7,262.4 L345.7,261.7 L345.7,261.0 L345.7,260.3 L345.7,259.6 L345.7,258.9 L345.7,258.2 L345.7,257.5 L345.7,256.8 L345.7,256.1 L345.7,255.4 L345.7,254.7 L345.7,254.0 L345.7,253.3 L345.7,252.6 L345.7,251.9 L345.7,251.1 L345.7,250.4 L345.7,249.7 L345.7,249.0 L345.7,248.3 L345.7,247.6 L345.7,246.9 L345.7,246.2 L345.7,245.5 L345.7,244.8 L345.7,244.1 L345.7,243.4 L345.7,242.7 L345.7,242.0 L345.7,241.3 L345.7,240.6 L345.7,239.9 L345.7,239.2 L345.7,238.5 L345.7,237.8 L345.7,237.1 L345.7,236.4 L345.7,235.7 L345.7,235.0 L345.7,234.3 L345.7,233.6 L345.7,232.9 L345.7,232.2 L345.7,231.5 L345.7,230.8 L345.7,230.1 L345.7,229.4 L345.7,228.7 L345.7,228.0 L345.7,227.3 L345.7,226.6 L345.7,225.9 L345.7,225.2 L345.7,224.5 L345.7,223.8 L345.7,223.1 L345.7,222.4 L345.7,221.7 L345.7,221.0 L345.7,220.3 L345.7,219.6 L345.7,218.9 L345.7,218.2 L345.7,217.5 L345.8,216.8 L345.8,216.0 L345.8,215.3 L345.8,214.6 L345.8,213.9 L345.8,213.2 L345.8,212.5 L345.8,211.8 L345.8,211.1 L345.9,210.4 L345.9,209.7 L345.9,209.0 L345.9,208.3 L346.0,207.6 L346.0,206.9 L346.0,206.2 L346.1,205.5 L346.1,204.8 L346.1,204.1 L346.2,203.4 L346.2,202.7 L346.3,202.0 L346.4,201.3 L346.4,200.6 L346.5,199.9 L346.6,199.2 L346.7,198.5 L346.8,197.8 L346.8,197.1 L346.9,196.4 L347.1,195.7 L347.2,195.0 L347.3,194.3 L347.4,193.6 L347.6,192.9 L347.7,192.2 L347.8,191.5 L348.0,190.8 L348.1,190.1 L348.3,189.4 L348.5,188.7 L348.6,188.0 L348.8,187.3 L348.9,186.6 L349.1,185.9 L349.2,185.2 L349.4,184.5 L349.5,183.8 L349.6,183.1 L349.7,182.4 L349.8,181.7 L349.7,181.0 L349.5,180.2 L349.4,179.5 L349.1,178.8 L348.9,178.1 L348.7,177.4 L348.4,176.7 L348.2,176.0 L348.0,175.3 L347.7,174.6 L347.5,173.9 L347.3,173.2 L347.2,172.5 L347.0,171.8 L346.8,171.1 L346.7,170.4 L346.6,169.7 L346.5,169.0 L346.4,168.3 L346.3,167.6 L346.2,166.9 L346.1,166.2 L346.1,165.5 L346.0,164.8 L346.0,164.1 L345.9,163.4 L345.9,162.7Z" fill="#a6cee3" stroke="#1a1a1a" stroke-width="1.15" stroke-linejoin="round"/>
<path d="M359.8,162.7 L359.8,163.4 L359.7,164.1 L359.7,164.8 L359.6,165.5 L359.6,166.2 L359.5,166.9 L359.4,167.6 L359.4,168.3 L359.3,169.0 L359.2,169.7 L359.1,170.4 L359.0,171.1 L358.8,171.8 L358.7,172.5 L358.6,173.2 L358.5,173.9 L358.3,174.7 L358.2,175.4 L358.0,176.1 L357.8,176.8 L357.7,177.5 L357.5,178.2 L357.4,178.9 L357.2,179.6 L357.1,180.3 L356.9,181.0 L356.8,181.7 L356.8,182.4 L356.8,183.1 L356.8,183.8 L356.9,184.5 L357.0,185.2 L357.1,185.9 L357.1,186.6 L357.2,187.3 L357.3,188.0 L357.4,188.7 L357.5,189.4 L357.6,190.1 L357.7,190.8 L357.8,191.5 L357.9,192.2 L358.0,192.9 L358.1,193.6 L358.2,194.3 L358.3,195.0 L358.4,195.7 L358.5,196.4 L358.6,197.1 L358.7,197.8 L358.8,198.6 L358.8,199.3 L358.9,200.0 L359.0,200.7 L359.1,201.4 L359.1,202.1 L359.2,202.8 L359.3,203.5 L359.3,204.2 L359.4,204.9 L359.4,205.6 L359.5,206.3 L359.5,207.0 L359.5,207.7 L359.6,208.4 L359.6,209.1 L359.7,209.8 L359.7,210.5 L359.7,211.2 L359.8,211.9 L359.8,212.6 L359.8,213.3 L359.8,214.0 L359.9,214.7 L359.9,215.4 L359.9,216.1 L359.9,216.8 L359.9,217.5 L359.9,218.2 L360.0,218.9 L360.0,219.6 L360.0,220.3 L360.0,221.0 L360.0,221.8 L360.0,222.5 L360.0,223.2 L360.0,223.9 L360.0,224.6 L360.0,225.3 L360.0,226.0 L360.0,226.7 L360.1,227.4 L360.1,228.1 L360.1,228.8 L360.1,229.5 L360.1,230.2 L360.1,230.9 L360.1,231.6 L360.1,232.3 L360.1,233.0 L360.1,233.7 L360.1,234.4 L360.1,235.1 L360.1,235.8 L360.1,236.5 L360.1,237.2 L360.1,237.9 L360.1,238.6 L360.1,239.3 L360.1,240.0 L360.1,240.7 L360.1,241.4 L360.1,242.1 L360.1,242.8 L360.1,243.5 L360.1,244.2 L360.1,244.9 L360.1,245.7 L360.1,246.4 L360.1,247.1 L360.1,247.8 L360.1,248.5 L360.1,249.2 L360.1,249.9 L360.1,250.6 L360.1,251.3 L360.1,252.0 L360.1,252.7 L360.1,253.4 L360.1,254.1 L360.1,254.8 L360.1,255.5 L360.1,256.2 L360.1,256.9 L360.1,256.9 L360.1,256.2 L360.1,255.5 L360.1,254.8 L360.1,254.1 L360.1,253.4 L360.1,252.7 L360.1,252.0 L360.1,251.3 L360.1,250.6 L360.1,249.9 L360.1,249.2 L360.1,248.5 L360.1,247.8 L360.1,247.1 L360.1,246.4 L360.1,245.7 L360.1,244.9 L360.1,244.2 L360.1,243.5 L360.1,242.8 L360.1,242.1 L360.1,241.4 L360.1,240.7 L360.1,240.0 L360.1,239.3 L360.1,238.6 L360.1,237.9 L360.1,237.2 L360.1,236.5 L360.1,235.8 L360.1,235.1 L360.1,234.4 L360.1,233.7 L360.1,233.0 L360.1,232.3 L360.1,231.6 L360.1,230.9 L360.1,230.2 L360.1,229.5 L360.1,228.8 L360.1,228.1 L360.1,227.4 L360.2,226.7 L360.2,226.0 L360.2,225.3 L360.2,224.6 L360.2,223.9 L360.2,223.2 L360.2,222.5 L360.2,221.8 L360.2,221.0 L360.2,220.3 L360.2,219.6 L360.2,218.9 L360.3,218.2 L360.3,217.5 L360.3,216.8 L360.3,216.1 L360.3,215.4 L360.3,214.7 L360.4,214.0 L360.4,213.3 L360.4,212.6 L360.4,211.9 L360.5,211.2 L360.5,210.5 L360.5,209.8 L360.6,209.1 L360.6,208.4 L360.7,207.7 L360.7,207.0 L360.7,206.3 L360.8,205.6 L360.8,204.9 L360.9,204.2 L360.9,203.5 L361.0,202.8 L361.1,202.1 L361.1,201.4 L361.2,200.7 L361.3,200.0 L361.4,199.3 L361.4,198.6 L361.5,197.8 L361.6,197.1 L361.7,196.4 L361.8,195.7 L361.9,195.0 L362.0,194.3 L362.1,193.6 L362.2,192.9 L362.3,192.2 L362.4,191.5 L362.5,190.8 L362.6,190.1 L362.7,189.4 L362.8,188.7 L362.9,188.0 L363.0,187.3 L363.1,186.6 L363.1,185.9 L363.2,185.2 L363.3,184.5 L363.4,183.8 L363.4,183.1 L363.4,182.4 L363.4,181.7 L363.3,181.0 L363.1,180.3 L363.0,179.6 L362.8,178.9 L362.7,178.2 L362.5,177.5 L362.4,176.8 L362.2,176.1 L362.0,175.4 L361.9,174.7 L361.7,173.9 L361.6,173.2 L361.5,172.5 L361.4,171.8 L361.2,171.1 L361.1,170.4 L361.0,169.7 L360.9,169.0 L360.8,168.3 L360.8,167.6 L360.7,166.9 L360.6,166.2 L360.6,165.5 L360.5,164.8 L360.5,164.1 L360.4,163.4 L360.4,162.7Z" fill="#1f78b4" stroke="#1a1a1a" stroke-width="1.15" stroke-linejoin="round"/>
<path d="M419.2,190.8 L419.2,191.5 L419.2,192.2 L419.2,192.9 L419.2,193.6 L419.2,194.3 L419.2,195.0 L419.2,195.7 L419.2,196.4 L419.2,197.2 L419.2,197.9 L419.2,198.6 L419.2,199.3 L419.2,200.0 L419.2,200.7 L419.2,201.4 L419.2,202.1 L419.2,202.8 L419.2,203.5 L419.2,204.2 L419.2,204.9 L419.2,205.6 L419.2,206.3 L419.2,207.0 L419.2,207.7 L419.1,208.5 L419.1,209.2 L419.1,209.9 L419.1,210.6 L419.1,211.3 L419.0,212.0 L419.0,212.7 L418.9,213.4 L418.9,214.1 L418.8,214.8 L418.7,215.5 L418.6,216.2 L418.5,216.9 L418.3,217.6 L418.2,218.3 L418.0,219.0 L417.8,219.7 L417.5,220.5 L417.3,221.2 L417.0,221.9 L416.7,222.6 L416.4,223.3 L416.1,224.0 L415.8,224.7 L415.4,225.4 L415.1,226.1 L414.8,226.8 L414.5,227.5 L414.3,228.2 L414.1,228.9 L413.9,229.6 L413.9,230.3 L414.0,231.0 L414.2,231.8 L414.5,232.5 L414.8,233.2 L415.2,233.9 L415.6,234.6 L416.0,235.3 L416.3,236.0 L416.7,236.7 L417.0,237.4 L417.4,238.1 L417.6,238.8 L417.9,239.5 L418.1,240.2 L418.3,240.9 L418.5,241.6 L418.6,242.3 L418.7,243.0 L418.8,243.8 L418.9,244.5 L419.0,245.2 L419.0,245.9 L419.1,246.6 L419.1,247.3 L419.1,248.0 L419.1,248.7 L419.2,249.4 L419.2,250.1 L419.2,250.8 L419.2,251.5 L419.2,252.2 L419.2,252.9 L419.2,253.6 L419.2,254.3 L419.2,255.1 L419.2,255.8 L419.2,256.5 L419.2,257.2 L419.2,257.9 L419.2,258.6 L419.2,259.3 L419.2,260.0 L419.2,260.7 L419.2,260.7 L419.2,260.0 L419.2,259.3 L419.2,258.6 L419.2,257.9 L419.2,257.2 L419.2,256.5 L419.2,255.8 L419.2,255.1 L419.2,254.3 L419.2,253.6 L419.2,252.9 L419.2,252.2 L419.2,251.5 L419.2,250.8 L419.2,250.1 L419.2,249.4 L419.3,248.7 L419.3,248.0 L419.3,247.3 L419.3,246.6 L419.4,245.9 L419.4,245.2 L419.5,244.5 L419.6,243.8 L419.7,243.0 L419.8,242.3 L419.9,241.6 L420.1,240.9 L420.3,240.2 L420.5,239.5 L420.8,238.8 L421.0,238.1 L421.4,237.4 L421.7,236.7 L422.1,236.0 L422.4,235.3 L422.8,234.6 L423.2,233.9 L423.6,233.2 L423.9,232.5 L424.2,231.8 L424.4,231.0 L424.5,230.3 L424.5,229.6 L424.3,228.9 L424.1,228.2 L423.9,227.5 L423.6,226.8 L423.3,226.1 L423.0,225.4 L422.6,224.7 L422.3,224.0 L422.0,223.3 L421.7,222.6 L421.4,221.9 L421.1,221.2 L420.9,220.5 L420.6,219.7 L420.4,219.0 L420.2,218.3 L420.1,217.6 L419.9,216.9 L419.8,216.2 L419.7,215.5 L419.6,214.8 L419.5,214.1 L419.5,213.4 L419.4,212.7 L419.4,212.0 L419.3,211.3 L419.3,210.6 L419.3,209.9 L419.3,209.2 L419.3,208.5 L419.2,207.7 L419.2,207.0 L419.2,206.3 L419.2,205.6 L419.2,204.9 L419.2,204.2 L419.2,203.5 L419.2,202.8 L419.2,202.1 L419.2,201.4 L419.2,200.7 L419.2,200.0 L419.2,199.3 L419.2,198.6 L419.2,197.9 L419.2,197.2 L419.2,196.4 L419.2,195.7 L419.2,195.0 L419.2,194.3 L419.2,193.6 L419.2,192.9 L419.2,192.2 L419.2,191.5 L419.2,190.8Z" fill="#a6cee3" stroke="#1a1a1a" stroke-width="1.15" stroke-linejoin="round"/>
<path d="M433.6,165.2 L433.6,165.9 L433.6,166.6 L433.6,167.3 L433.6,168.0 L433.5,168.7 L433.5,169.4 L433.5,170.1 L433.5,170.8 L433.5,171.5 L433.5,172.2 L433.5,172.9 L433.5,173.6 L433.5,174.3 L433.5,175.0 L433.5,175.7 L433.5,176.4 L433.4,177.1 L433.4,177.8 L433.4,178.5 L433.4,179.2 L433.4,179.9 L433.4,180.6 L433.3,181.3 L433.3,182.0 L433.3,182.7 L433.3,183.4 L433.2,184.1 L433.2,184.8 L433.2,185.5 L433.2,186.2 L433.1,186.9 L433.1,187.6 L433.1,188.3 L433.0,189.0 L433.0,189.7 L432.9,190.4 L432.9,191.1 L432.9,191.8 L432.8,192.5 L432.8,193.2 L432.7,193.9 L432.7,194.6 L432.6,195.3 L432.6,196.0 L432.5,196.7 L432.5,197.4 L432.4,198.1 L432.4,198.8 L432.3,199.5 L432.3,200.2 L432.2,200.9 L432.2,201.6 L432.1,202.3 L432.1,203.0 L432.1,203.7 L432.0,204.4 L432.0,205.1 L431.9,205.8 L431.9,206.5 L431.8,207.2 L431.8,207.9 L431.8,208.6 L431.8,209.3 L431.7,210.0 L431.7,210.7 L431.7,211.4 L431.7,212.1 L431.7,212.8 L431.7,213.5 L431.7,214.2 L431.7,214.9 L431.7,215.6 L431.7,216.3 L431.7,217.0 L431.7,217.7 L431.7,218.4 L431.8,219.1 L431.8,219.9 L431.8,220.6 L431.8,221.3 L431.8,222.0 L431.9,222.7 L431.9,223.4 L431.9,224.1 L432.0,224.8 L432.0,225.5 L432.0,226.2 L432.0,226.9 L432.1,227.6 L432.1,228.3 L432.1,229.0 L432.2,229.7 L432.2,230.4 L432.2,231.1 L432.3,231.8 L432.3,232.5 L432.3,233.2 L432.4,233.9 L432.4,234.6 L432.4,235.3 L432.5,236.0 L432.5,236.7 L432.5,237.4 L432.6,238.1 L432.6,238.8 L432.6,239.5 L432.6,240.2 L432.7,240.9 L432.7,241.6 L432.7,242.3 L432.8,243.0 L432.8,243.7 L432.8,244.4 L432.9,245.1 L432.9,245.8 L432.9,246.5 L432.9,247.2 L433.0,247.9 L433.0,248.6 L433.0,249.3 L433.0,250.0 L433.1,250.7 L433.1,251.4 L433.1,252.1 L433.1,252.8 L433.1,253.5 L433.2,254.2 L433.2,254.9 L433.2,255.6 L433.2,256.3 L433.2,257.0 L433.3,257.7 L433.3,258.4 L433.3,259.1 L433.3,259.8 L433.3,260.5 L433.3,261.2 L433.3,261.9 L433.4,262.6 L433.4,263.3 L433.4,264.0 L433.4,264.7 L433.4,265.4 L433.4,266.1 L433.4,266.8 L433.4,267.5 L433.4,268.2 L433.5,268.9 L433.5,269.6 L433.5,270.3 L433.5,271.0 L433.5,271.7 L433.5,272.4 L433.5,273.1 L433.7,273.1 L433.7,272.4 L433.7,271.7 L433.7,271.0 L433.7,270.3 L433.7,269.6 L433.7,268.9 L433.8,268.2 L433.8,267.5 L433.8,266.8 L433.8,266.1 L433.8,265.4 L433.8,264.7 L433.8,264.0 L433.8,263.3 L433.8,262.6 L433.9,261.9 L433.9,261.2 L433.9,260.5 L433.9,259.8 L433.9,259.1 L433.9,258.4 L433.9,257.7 L434.0,257.0 L434.0,256.3 L434.0,255.6 L434.0,254.9 L434.0,254.2 L434.1,253.5 L434.1,252.8 L434.1,252.1 L434.1,251.4 L434.1,250.7 L434.2,250.0 L434.2,249.3 L434.2,248.6 L434.2,247.9 L434.3,247.2 L434.3,246.5 L434.3,245.8 L434.3,245.1 L434.4,244.4 L434.4,243.7 L434.4,243.0 L434.5,242.3 L434.5,241.6 L434.5,240.9 L434.6,240.2 L434.6,239.5 L434.6,238.8 L434.6,238.1 L434.7,237.4 L434.7,236.7 L434.7,236.0 L434.8,235.3 L434.8,234.6 L434.8,233.9 L434.9,233.2 L434.9,232.5 L434.9,231.8 L435.0,231.1 L435.0,230.4 L435.0,229.7 L435.1,229.0 L435.1,228.3 L435.1,227.6 L435.2,226.9 L435.2,226.2 L435.2,225.5 L435.2,224.8 L435.3,224.1 L435.3,223.4 L435.3,222.7 L435.4,222.0 L435.4,221.3 L435.4,220.6 L435.4,219.9 L435.4,219.1 L435.5,218.4 L435.5,217.7 L435.5,217.0 L435.5,216.3 L435.5,215.6 L435.5,214.9 L435.5,214.2 L435.5,213.5 L435.5,212.8 L435.5,212.1 L435.5,211.4 L435.5,210.7 L435.5,210.0 L435.4,209.3 L435.4,208.6 L435.4,207.9 L435.4,207.2 L435.3,206.5 L435.3,205.8 L435.2,205.1 L435.2,204.4 L435.1,203.7 L435.1,203.0 L435.1,202.3 L435.0,201.6 L435.0,200.9 L434.9,200.2 L434.9,199.5 L434.8,198.8 L434.8,198.1 L434.7,197.4 L434.7,196.7 L434.6,196.0 L434.6,195.3 L434.5,194.6 L434.5,193.9 L434.4,193.2 L434.4,192.5 L434.3,191.8 L434.3,191.1 L434.3,190.4 L434.2,189.7 L434.2,189.0 L434.1,188.3 L434.1,187.6 L434.1,186.9 L434.0,186.2 L434.0,185.5 L434.0,184.8 L434.0,184.1 L433.9,183.4 L433.9,182.7 L433.9,182.0 L433.9,181.3 L433.8,180.6 L433.8,179.9 L433.8,179.2 L433.8,178.5 L433.8,177.8 L433.8,177.1 L433.7,176.4 L433.7,175.7 L433.7,175.0 L433.7,174.3 L433.7,173.6 L433.7,172.9 L433.7,172.2 L433.7,171.5 L433.7,170.8 L433.7,170.1 L433.7,169.4 L433.7,168.7 L433.6,168.0 L433.6,167.3 L433.6,166.6 L433.6,165.9 L433.6,165.2Z" fill="#1f78b4" stroke="#1a1a1a" stroke-width="1.15" stroke-linejoin="round"/>
<path d="M490.1,117.4 L490.1,118.1 L490.1,118.8 L490.1,119.5 L490.1,120.2 L490.1,120.9 L490.1,121.6 L490.1,122.3 L490.1,123.0 L490.1,123.7 L490.1,124.4 L490.1,125.1 L490.1,125.8 L490.1,126.6 L490.1,127.3 L490.1,128.0 L490.1,128.7 L490.1,129.4 L490.1,130.1 L490.1,130.8 L490.1,131.5 L490.1,132.2 L490.1,132.9 L490.1,133.6 L490.1,134.3 L490.1,135.0 L490.1,135.7 L490.1,136.4 L490.1,137.1 L490.1,137.8 L490.1,138.5 L490.1,139.2 L490.0,139.9 L490.0,140.6 L490.0,141.3 L490.0,142.0 L490.0,142.7 L490.0,143.4 L489.9,144.1 L489.9,144.9 L489.8,145.6 L489.8,146.3 L489.7,147.0 L489.6,147.7 L489.5,148.4 L489.4,149.1 L489.3,149.8 L489.1,150.5 L488.9,151.2 L488.6,151.9 L488.3,152.6 L488.0,153.3 L487.5,154.0 L487.0,154.7 L486.5,155.4 L485.8,156.1 L485.1,156.8 L484.5,157.5 L483.8,158.2 L483.3,158.9 L483.0,159.6 L483.0,160.3 L483.2,161.0 L483.6,161.7 L484.2,162.4 L484.9,163.2 L485.6,163.9 L486.2,164.6 L486.8,165.3 L487.3,166.0 L487.8,166.7 L488.2,167.4 L488.5,168.1 L488.8,168.8 L489.0,169.5 L489.2,170.2 L489.4,170.9 L489.5,171.6 L489.6,172.3 L489.7,173.0 L489.8,173.7 L489.8,174.4 L489.9,175.1 L489.9,175.8 L489.9,176.5 L490.0,177.2 L490.0,177.9 L490.0,178.6 L490.0,179.3 L490.0,180.0 L490.0,180.7 L490.1,181.5 L490.1,182.2 L490.1,182.9 L490.1,183.6 L490.1,184.3 L490.1,185.0 L490.1,185.7 L490.1,186.4 L490.1,187.1 L490.1,187.8 L490.1,188.5 L490.1,189.2 L490.1,189.9 L490.1,189.9 L490.1,189.2 L490.1,188.5 L490.1,187.8 L490.1,187.1 L490.1,186.4 L490.1,185.7 L490.1,185.0 L490.1,184.3 L490.1,183.6 L490.1,182.9 L490.1,182.2 L490.1,181.5 L490.2,180.7 L490.2,180.0 L490.2,179.3 L490.2,178.6 L490.2,177.9 L490.2,177.2 L490.3,176.5 L490.3,175.8 L490.3,175.1 L490.4,174.4 L490.4,173.7 L490.5,173.0 L490.6,172.3 L490.7,171.6 L490.8,170.9 L491.0,170.2 L491.2,169.5 L491.4,168.8 L491.7,168.1 L492.0,167.4 L492.4,166.7 L492.9,166.0 L493.4,165.3 L494.0,164.6 L494.6,163.9 L495.3,163.2 L496.0,162.4 L496.6,161.7 L497.0,161.0 L497.2,160.3 L497.2,159.6 L496.9,158.9 L496.4,158.2 L495.7,157.5 L495.1,156.8 L494.4,156.1 L493.7,155.4 L493.2,154.7 L492.7,154.0 L492.2,153.3 L491.9,152.6 L491.6,151.9 L491.3,151.2 L491.1,150.5 L490.9,149.8 L490.8,149.1 L490.7,148.4 L490.6,147.7 L490.5,147.0 L490.4,146.3 L490.4,145.6 L490.3,144.9 L490.3,144.1 L490.2,143.4 L490.2,142.7 L490.2,142.0 L490.2,141.3 L490.2,140.6 L490.2,139.9 L490.1,139.2 L490.1,138.5 L490.1,137.8 L490.1,137.1 L490.1,136.4 L490.1,135.7 L490.1,135.0 L490.1,134.3 L490.1,133.6 L490.1,132.9 L490.1,132.2 L490.1,131.5 L490.1,130.8 L490.1,130.1 L490.1,129.4 L490.1,128.7 L490.1,128.0 L490.1,127.3 L490.1,126.6 L490.1,125.8 L490.1,125.1 L490.1,124.4 L490.1,123.7 L490.1,123.0 L490.1,122.3 L490.1,121.6 L490.1,120.9 L490.1,120.2 L490.1,119.5 L490.1,118.8 L490.1,118.1 L490.1,117.4Z" fill="#a6cee3" stroke="#1a1a1a" stroke-width="1.15" stroke-linejoin="round"/>
<path d="M504.0,114.5 L504.0,115.2 L504.0,115.9 L504.0,116.6 L504.0,117.3 L504.0,118.0 L504.0,118.7 L504.0,119.4 L504.0,120.1 L504.0,120.8 L504.0,121.5 L504.0,122.2 L504.0,122.9 L504.0,123.6 L504.0,124.3 L504.0,125.0 L504.0,125.7 L504.0,126.4 L504.0,127.1 L504.0,127.8 L504.0,128.5 L504.0,129.2 L504.0,129.9 L504.0,130.6 L504.0,131.3 L504.0,132.0 L504.0,132.7 L504.0,133.5 L504.0,134.2 L504.0,134.9 L504.0,135.6 L504.0,136.3 L504.0,137.0 L504.0,137.7 L504.0,138.4 L504.0,139.1 L504.0,139.8 L504.0,140.5 L504.0,141.2 L504.0,141.9 L504.0,142.6 L504.0,143.3 L504.0,144.0 L504.0,144.7 L504.0,145.4 L504.0,146.1 L504.0,146.8 L504.0,147.5 L504.0,148.2 L504.0,148.9 L504.0,149.6 L504.0,150.3 L504.0,151.0 L504.0,151.7 L504.0,152.4 L504.0,153.1 L504.0,153.8 L504.0,154.5 L504.0,155.2 L504.0,155.9 L504.0,156.6 L504.0,157.3 L504.0,158.0 L504.0,158.7 L504.0,159.4 L504.0,160.1 L504.0,160.8 L504.0,161.5 L504.0,162.2 L504.0,162.9 L504.0,163.6 L504.0,164.3 L504.0,165.0 L504.0,165.7 L504.0,166.4 L504.0,167.1 L503.9,167.8 L503.9,168.5 L503.9,169.2 L503.9,169.9 L503.9,170.7 L503.9,171.4 L503.8,172.1 L503.8,172.8 L503.8,173.5 L503.8,174.2 L503.7,174.9 L503.7,175.6 L503.6,176.3 L503.6,177.0 L503.5,177.7 L503.4,178.4 L503.4,179.1 L503.3,179.8 L503.2,180.5 L503.1,181.2 L503.0,181.9 L502.9,182.6 L502.7,183.3 L502.6,184.0 L502.5,184.7 L502.3,185.4 L502.2,186.1 L502.0,186.8 L501.8,187.5 L501.7,188.2 L501.5,188.9 L501.3,189.6 L501.1,190.3 L500.9,191.0 L500.8,191.7 L500.6,192.4 L500.4,193.1 L500.3,193.8 L500.1,194.5 L500.0,195.2 L499.9,195.9 L499.8,196.6 L499.7,197.3 L499.6,198.0 L499.6,198.7 L499.7,199.4 L499.8,200.1 L499.9,200.8 L500.0,201.5 L500.2,202.2 L500.5,202.9 L500.7,203.6 L500.9,204.3 L501.2,205.0 L501.4,205.7 L501.6,206.4 L501.9,207.2 L502.1,207.9 L502.3,208.6 L502.5,209.3 L502.7,210.0 L502.9,210.7 L503.0,211.4 L503.2,212.1 L503.3,212.8 L503.4,213.5 L503.5,214.2 L503.6,214.9 L503.6,215.6 L503.7,216.3 L503.8,217.0 L503.8,217.7 L503.8,218.4 L503.9,219.1 L503.9,219.8 L503.9,220.5 L503.9,221.2 L503.9,221.9 L504.0,222.6 L504.0,223.3 L504.0,224.0 L504.0,224.7 L504.0,225.4 L504.0,225.4 L504.0,224.7 L504.0,224.0 L504.0,223.3 L504.0,222.6 L504.1,221.9 L504.1,221.2 L504.1,220.5 L504.1,219.8 L504.1,219.1 L504.2,218.4 L504.2,217.7 L504.2,217.0 L504.3,216.3 L504.4,215.6 L504.4,214.9 L504.5,214.2 L504.6,213.5 L504.7,212.8 L504.8,212.1 L505.0,211.4 L505.1,210.7 L505.3,210.0 L505.5,209.3 L505.7,208.6 L505.9,207.9 L506.1,207.2 L506.4,206.4 L506.6,205.7 L506.8,205.0 L507.1,204.3 L507.3,203.6 L507.5,202.9 L507.8,202.2 L508.0,201.5 L508.1,200.8 L508.2,200.1 L508.3,199.4 L508.4,198.7 L508.4,198.0 L508.3,197.3 L508.2,196.6 L508.1,195.9 L508.0,195.2 L507.9,194.5 L507.7,193.8 L507.6,193.1 L507.4,192.4 L507.2,191.7 L507.1,191.0 L506.9,190.3 L506.7,189.6 L506.5,188.9 L506.3,188.2 L506.2,187.5 L506.0,186.8 L505.8,186.1 L505.7,185.4 L505.5,184.7 L505.4,184.0 L505.3,183.3 L505.1,182.6 L505.0,181.9 L504.9,181.2 L504.8,180.5 L504.7,179.8 L504.6,179.1 L504.6,178.4 L504.5,177.7 L504.4,177.0 L504.4,176.3 L504.3,175.6 L504.3,174.9 L504.2,174.2 L504.2,173.5 L504.2,172.8 L504.2,172.1 L504.1,171.4 L504.1,170.7 L504.1,169.9 L504.1,169.2 L504.1,168.5 L504.1,167.8 L504.0,167.1 L504.0,166.4 L504.0,165.7 L504.0,165.0 L504.0,164.3 L504.0,163.6 L504.0,162.9 L504.0,162.2 L504.0,161.5 L504.0,160.8 L504.0,160.1 L504.0,159.4 L504.0,158.7 L504.0,158.0 L504.0,157.3 L504.0,156.6 L504.0,155.9 L504.0,155.2 L504.0,154.5 L504.0,153.8 L504.0,153.1 L504.0,152.4 L504.0,151.7 L504.0,151.0 L504.0,150.3 L504.0,149.6 L504.0,148.9 L504.0,148.2 L504.0,147.5 L504.0,146.8 L504.0,146.1 L504.0,145.4 L504.0,144.7 L504.0,144.0 L504.0,143.3 L504.0,142.6 L504.0,141.9 L504.0,141.2 L504.0,140.5 L504.0,139.8 L504.0,139.1 L504.0,138.4 L504.0,137.7 L504.0,137.0 L504.0,136.3 L504.0,135.6 L504.0,134.9 L504.0,134.2 L504.0,133.5 L504.0,132.7 L504.0,132.0 L504.0,131.3 L504.0,130.6 L504.0,129.9 L504.0,129.2 L504.0,128.5 L504.0,127.8 L504.0,127.1 L504.0,126.4 L504.0,125.7 L504.0,125.0 L504.0,124.3 L504.0,123.6 L504.0,122.9 L504.0,122.2 L504.0,121.5 L504.0,120.8 L504.0,120.1 L504.0,119.4 L504.0,118.7 L504.0,118.0 L504.0,117.3 L504.0,116.6 L504.0,115.9 L504.0,115.2 L504.0,114.5Z" fill="#1f78b4" stroke="#1a1a1a" stroke-width="1.15" stroke-linejoin="round"/>
<path d="M607.6,171.4 L607.6,172.1 L607.6,172.8 L607.6,173.5 L607.6,174.2 L607.6,174.9 L607.5,175.6 L607.5,176.3 L607.4,177.0 L607.2,177.7 L607.0,178.4 L606.7,179.1 L606.4,179.8 L605.9,180.5 L605.4,181.2 L604.7,181.9 L604.0,182.6 L603.3,183.3 L602.6,184.0 L601.9,184.7 L601.4,185.4 L601.0,186.1 L600.7,186.8 L600.6,187.5 L600.7,188.2 L600.8,188.9 L601.1,189.7 L601.5,190.4 L602.0,191.1 L602.6,191.8 L603.2,192.5 L603.9,193.2 L604.6,193.9 L605.2,194.6 L605.7,195.3 L606.2,196.0 L606.5,196.7 L606.9,197.4 L607.1,198.1 L607.3,198.8 L607.4,199.5 L607.5,200.2 L607.5,200.9 L607.6,201.6 L607.6,202.3 L607.6,203.0 L607.6,203.7 L607.6,204.4 L607.6,205.1 L607.6,205.8 L607.6,206.5 L607.6,207.2 L607.6,207.9 L607.6,208.6 L607.6,209.3 L607.6,210.0 L607.6,210.7 L607.6,211.4 L607.6,212.1 L607.6,212.8 L607.6,213.5 L607.6,214.2 L607.6,214.9 L607.6,215.6 L607.6,216.3 L607.6,217.0 L607.6,217.7 L607.6,218.4 L607.6,219.1 L607.6,219.8 L607.6,220.5 L607.6,221.2 L607.6,221.9 L607.6,222.6 L607.6,223.3 L607.6,224.0 L607.6,224.7 L607.6,225.4 L607.6,226.2 L607.6,226.9 L607.6,227.6 L607.6,228.3 L607.6,229.0 L607.6,229.7 L607.6,230.4 L607.6,231.1 L607.6,231.8 L607.6,232.5 L607.6,233.2 L607.6,233.9 L607.6,234.6 L607.6,235.3 L607.6,236.0 L607.6,236.7 L607.6,237.4 L607.6,238.1 L607.6,238.8 L607.6,239.5 L607.6,240.2 L607.6,240.9 L607.6,241.6 L607.6,242.3 L607.6,243.0 L607.6,243.7 L607.6,243.7 L607.6,243.0 L607.6,242.3 L607.6,241.6 L607.6,240.9 L607.6,240.2 L607.6,239.5 L607.6,238.8 L607.6,238.1 L607.6,237.4 L607.6,236.7 L607.6,236.0 L607.6,235.3 L607.6,234.6 L607.6,233.9 L607.6,233.2 L607.6,232.5 L607.6,231.8 L607.6,231.1 L607.6,230.4 L607.6,229.7 L607.6,229.0 L607.6,228.3 L607.6,227.6 L607.6,226.9 L607.6,226.2 L607.6,225.4 L607.6,224.7 L607.6,224.0 L607.6,223.3 L607.6,222.6 L607.6,221.9 L607.6,221.2 L607.6,220.5 L607.6,219.8 L607.6,219.1 L607.6,218.4 L607.6,217.7 L607.6,217.0 L607.6,216.3 L607.6,215.6 L607.6,214.9 L607.6,214.2 L607.6,213.5 L607.6,212.8 L607.6,212.1 L607.6,211.4 L607.6,210.7 L607.6,210.0 L607.6,209.3 L607.6,208.6 L607.6,207.9 L607.6,207.2 L607.6,206.5 L607.6,205.8 L607.6,205.1 L607.6,204.4 L607.6,203.7 L607.6,203.0 L607.6,202.3 L607.6,201.6 L607.7,200.9 L607.7,200.2 L607.8,199.5 L607.9,198.8 L608.1,198.1 L608.3,197.4 L608.7,196.7 L609.0,196.0 L609.5,195.3 L610.0,194.6 L610.6,193.9 L611.3,193.2 L612.0,192.5 L612.6,191.8 L613.2,191.1 L613.7,190.4 L614.1,189.7 L614.4,188.9 L614.5,188.2 L614.6,187.5 L614.5,186.8 L614.2,186.1 L613.8,185.4 L613.3,184.7 L612.6,184.0 L611.9,183.3 L611.2,182.6 L610.5,181.9 L609.8,181.2 L609.3,180.5 L608.8,179.8 L608.5,179.1 L608.2,178.4 L608.0,177.7 L607.8,177.0 L607.7,176.3 L607.7,175.6 L607.6,174.9 L607.6,174.2 L607.6,173.5 L607.6,172.8 L607.6,172.1 L607.6,171.4Z" fill="#b0de8a" stroke="#1a1a1a" stroke-width="1.15" stroke-linejoin="round"/>
<path d="M621.6,168.0 L621.6,168.7 L621.6,169.4 L621.5,170.1 L621.5,170.8 L621.5,171.5 L621.5,172.2 L621.5,172.9 L621.4,173.6 L621.4,174.3 L621.4,175.1 L621.3,175.8 L621.3,176.5 L621.3,177.2 L621.2,177.9 L621.2,178.6 L621.1,179.3 L621.1,180.0 L621.0,180.7 L620.9,181.4 L620.9,182.1 L620.8,182.8 L620.7,183.5 L620.7,184.2 L620.6,184.9 L620.5,185.6 L620.4,186.3 L620.3,187.0 L620.3,187.8 L620.2,188.5 L620.1,189.2 L620.0,189.9 L619.9,190.6 L619.8,191.3 L619.7,192.0 L619.6,192.7 L619.5,193.4 L619.4,194.1 L619.3,194.8 L619.2,195.5 L619.1,196.2 L619.1,196.9 L619.0,197.6 L618.9,198.3 L618.9,199.0 L618.9,199.7 L618.9,200.4 L618.9,201.2 L619.0,201.9 L619.0,202.6 L619.1,203.3 L619.2,204.0 L619.2,204.7 L619.3,205.4 L619.4,206.1 L619.5,206.8 L619.5,207.5 L619.6,208.2 L619.7,208.9 L619.8,209.6 L619.9,210.3 L620.0,211.0 L620.1,211.7 L620.1,212.4 L620.2,213.1 L620.3,213.8 L620.4,214.6 L620.5,215.3 L620.5,216.0 L620.6,216.7 L620.7,217.4 L620.7,218.1 L620.8,218.8 L620.9,219.5 L620.9,220.2 L621.0,220.9 L621.0,221.6 L621.1,222.3 L621.1,223.0 L621.2,223.7 L621.2,224.4 L621.2,225.1 L621.3,225.8 L621.3,226.5 L621.3,227.2 L621.4,228.0 L621.4,228.7 L621.4,229.4 L621.4,230.1 L621.5,230.8 L621.5,231.5 L621.5,232.2 L621.5,232.9 L621.5,233.6 L621.6,234.3 L621.6,235.0 L621.6,235.7 L621.6,236.4 L621.6,237.1 L621.6,237.8 L621.6,238.5 L621.6,239.2 L621.6,239.9 L621.6,240.7 L621.6,241.4 L621.7,242.1 L621.7,242.8 L621.7,243.5 L621.7,244.2 L621.7,244.9 L621.7,245.6 L621.7,246.3 L621.7,247.0 L621.7,247.0 L621.7,246.3 L621.7,245.6 L621.7,244.9 L621.7,244.2 L621.7,243.5 L621.7,242.8 L621.7,242.1 L621.8,241.4 L621.8,240.7 L621.8,239.9 L621.8,239.2 L621.8,238.5 L621.8,237.8 L621.8,237.1 L621.8,236.4 L621.8,235.7 L621.8,235.0 L621.8,234.3 L621.9,233.6 L621.9,232.9 L621.9,232.2 L621.9,231.5 L621.9,230.8 L622.0,230.1 L622.0,229.4 L622.0,228.7 L622.0,228.0 L622.1,227.2 L622.1,226.5 L622.1,225.8 L622.2,225.1 L622.2,224.4 L622.2,223.7 L622.3,223.0 L622.3,222.3 L622.4,221.6 L622.4,220.9 L622.5,220.2 L622.5,219.5 L622.6,218.8 L622.7,218.1 L622.7,217.4 L622.8,216.7 L622.9,216.0 L622.9,215.3 L623.0,214.6 L623.1,213.8 L623.2,213.1 L623.3,212.4 L623.3,211.7 L623.4,211.0 L623.5,210.3 L623.6,209.6 L623.7,208.9 L623.8,208.2 L623.9,207.5 L623.9,206.8 L624.0,206.1 L624.1,205.4 L624.2,204.7 L624.2,204.0 L624.3,203.3 L624.4,202.6 L624.4,201.9 L624.5,201.2 L624.5,200.4 L624.5,199.7 L624.5,199.0 L624.5,198.3 L624.4,197.6 L624.3,196.9 L624.3,196.2 L624.2,195.5 L624.1,194.8 L624.0,194.1 L623.9,193.4 L623.8,192.7 L623.7,192.0 L623.6,191.3 L623.5,190.6 L623.4,189.9 L623.3,189.2 L623.2,188.5 L623.1,187.8 L623.1,187.0 L623.0,186.3 L622.9,185.6 L622.8,184.9 L622.7,184.2 L622.7,183.5 L622.6,182.8 L622.5,182.1 L622.5,181.4 L622.4,180.7 L622.3,180.0 L622.3,179.3 L622.2,178.6 L622.2,177.9 L622.1,177.2 L622.1,176.5 L622.1,175.8 L622.0,175.1 L622.0,174.3 L622.0,173.6 L621.9,172.9 L621.9,172.2 L621.9,171.5 L621.9,170.8 L621.9,170.1 L621.8,169.4 L621.8,168.7 L621.8,168.0Z" fill="#3aa337" stroke="#1a1a1a" stroke-width="1.15" stroke-linejoin="round"/>
<path d="M679.0,177.5 L679.0,178.2 L679.0,178.9 L679.0,179.6 L679.0,180.3 L679.0,181.0 L679.0,181.7 L679.0,182.4 L679.0,183.1 L679.0,183.8 L679.0,184.5 L679.0,185.2 L679.0,185.9 L679.0,186.6 L679.0,187.3 L679.0,188.0 L679.0,188.7 L679.0,189.4 L679.0,190.1 L679.0,190.8 L679.0,191.5 L679.0,192.2 L679.0,193.0 L679.0,193.7 L679.0,194.4 L679.0,195.1 L679.0,195.8 L679.0,196.5 L679.0,197.2 L679.0,197.9 L679.0,198.6 L679.0,199.3 L679.0,200.0 L679.0,200.7 L679.0,201.4 L679.0,202.1 L679.0,202.8 L679.0,203.5 L679.0,204.2 L679.0,204.9 L679.0,205.6 L679.0,206.3 L679.0,207.0 L679.0,207.7 L679.0,208.4 L679.0,209.1 L679.0,209.8 L679.0,210.5 L679.0,211.2 L679.0,211.9 L679.0,212.6 L679.0,213.3 L679.0,214.0 L679.0,214.7 L679.0,215.4 L679.0,216.1 L679.0,216.8 L679.0,217.5 L679.0,218.2 L679.0,218.9 L679.0,219.6 L679.0,220.3 L679.0,221.0 L679.0,221.8 L678.9,222.5 L678.9,223.2 L678.9,223.9 L678.8,224.6 L678.8,225.3 L678.7,226.0 L678.7,226.7 L678.6,227.4 L678.4,228.1 L678.3,228.8 L678.1,229.5 L677.9,230.2 L677.7,230.9 L677.4,231.6 L677.1,232.3 L676.8,233.0 L676.4,233.7 L676.0,234.4 L675.6,235.1 L675.2,235.8 L674.8,236.5 L674.4,237.2 L674.1,237.9 L673.8,238.6 L673.6,239.3 L673.5,240.0 L673.6,240.7 L673.8,241.4 L674.1,242.1 L674.4,242.8 L674.8,243.5 L675.2,244.2 L675.6,244.9 L676.0,245.6 L676.3,246.3 L676.7,247.0 L677.0,247.7 L677.3,248.4 L677.6,249.1 L677.8,249.8 L678.0,250.5 L678.2,251.2 L678.3,252.0 L678.5,252.7 L678.6,253.4 L678.7,254.1 L678.7,254.8 L678.8,255.5 L678.8,256.2 L678.9,256.9 L678.9,257.6 L678.9,258.3 L678.9,259.0 L679.0,259.7 L679.0,260.4 L679.0,261.1 L679.0,261.8 L679.0,262.5 L679.0,263.2 L679.0,263.9 L679.0,264.6 L679.0,265.3 L679.0,266.0 L679.0,266.0 L679.0,265.3 L679.0,264.6 L679.0,263.9 L679.0,263.2 L679.0,262.5 L679.0,261.8 L679.0,261.1 L679.0,260.4 L679.0,259.7 L679.1,259.0 L679.1,258.3 L679.1,257.6 L679.1,256.9 L679.2,256.2 L679.2,255.5 L679.3,254.8 L679.3,254.1 L679.4,253.4 L679.5,252.7 L679.7,252.0 L679.8,251.2 L680.0,250.5 L680.2,249.8 L680.4,249.1 L680.7,248.4 L681.0,247.7 L681.3,247.0 L681.7,246.3 L682.0,245.6 L682.4,244.9 L682.8,244.2 L683.2,243.5 L683.6,242.8 L683.9,242.1 L684.2,241.4 L684.4,240.7 L684.5,240.0 L684.4,239.3 L684.2,238.6 L683.9,237.9 L683.6,237.2 L683.2,236.5 L682.8,235.8 L682.4,235.1 L682.0,234.4 L681.6,233.7 L681.2,233.0 L680.9,232.3 L680.6,231.6 L680.3,230.9 L680.1,230.2 L679.9,229.5 L679.7,228.8 L679.6,228.1 L679.4,227.4 L679.3,226.7 L679.3,226.0 L679.2,225.3 L679.2,224.6 L679.1,223.9 L679.1,223.2 L679.1,222.5 L679.0,221.8 L679.0,221.0 L679.0,220.3 L679.0,219.6 L679.0,218.9 L679.0,218.2 L679.0,217.5 L679.0,216.8 L679.0,216.1 L679.0,215.4 L679.0,214.7 L679.0,214.0 L679.0,213.3 L679.0,212.6 L679.0,211.9 L679.0,211.2 L679.0,210.5 L679.0,209.8 L679.0,209.1 L679.0,208.4 L679.0,207.7 L679.0,207.0 L679.0,206.3 L679.0,205.6 L679.0,204.9 L679.0,204.2 L679.0,203.5 L679.0,202.8 L679.0,202.1 L679.0,201.4 L679.0,200.7 L679.0,200.0 L679.0,199.3 L679.0,198.6 L679.0,197.9 L679.0,197.2 L679.0,196.5 L679.0,195.8 L679.0,195.1 L679.0,194.4 L679.0,193.7 L679.0,193.0 L679.0,192.2 L679.0,191.5 L679.0,190.8 L679.0,190.1 L679.0,189.4 L679.0,188.7 L679.0,188.0 L679.0,187.3 L679.0,186.6 L679.0,185.9 L679.0,185.2 L679.0,184.5 L679.0,183.8 L679.0,183.1 L679.0,182.4 L679.0,181.7 L679.0,181.0 L679.0,180.3 L679.0,179.6 L679.0,178.9 L679.0,178.2 L679.0,177.5Z" fill="#b0de8a" stroke="#1a1a1a" stroke-width="1.15" stroke-linejoin="round"/>
<path d="M693.1,166.6 L693.1,167.3 L693.1,168.0 L693.1,168.7 L693.1,169.4 L693.1,170.1 L693.1,170.8 L693.1,171.5 L693.1,172.2 L693.1,172.9 L693.1,173.6 L693.1,174.3 L693.1,175.0 L693.1,175.7 L693.1,176.4 L693.1,177.1 L693.1,177.8 L693.1,178.5 L693.1,179.2 L693.1,179.9 L693.1,180.6 L693.1,181.3 L693.1,182.0 L693.1,182.7 L693.1,183.4 L693.1,184.1 L693.1,184.8 L693.1,185.5 L693.1,186.2 L693.1,186.9 L693.1,187.6 L693.1,188.3 L693.1,189.0 L693.1,189.7 L693.1,190.4 L693.1,191.1 L693.1,191.8 L693.1,192.5 L693.1,193.2 L693.1,193.9 L693.1,194.6 L693.1,195.3 L693.1,196.0 L693.1,196.7 L693.1,197.4 L693.1,198.1 L693.1,198.8 L693.1,199.5 L693.1,200.2 L693.1,200.9 L693.1,201.6 L693.1,202.3 L693.1,203.0 L693.1,203.7 L693.1,204.4 L693.1,205.1 L693.1,205.8 L693.0,206.5 L693.0,207.2 L693.0,207.9 L693.0,208.6 L693.0,209.3 L693.0,210.0 L693.0,210.7 L693.0,211.4 L693.0,212.1 L693.0,212.8 L692.9,213.5 L692.9,214.2 L692.9,214.9 L692.9,215.6 L692.9,216.3 L692.9,217.0 L692.8,217.7 L692.8,218.4 L692.8,219.1 L692.8,219.8 L692.7,220.6 L692.7,221.3 L692.7,222.0 L692.6,222.7 L692.6,223.4 L692.6,224.1 L692.5,224.8 L692.5,225.5 L692.4,226.2 L692.4,226.9 L692.3,227.6 L692.3,228.3 L692.2,229.0 L692.2,229.7 L692.1,230.4 L692.0,231.1 L692.0,231.8 L691.9,232.5 L691.8,233.2 L691.8,233.9 L691.7,234.6 L691.6,235.3 L691.5,236.0 L691.5,236.7 L691.4,237.4 L691.3,238.1 L691.3,238.8 L691.2,239.5 L691.1,240.2 L691.0,240.9 L691.0,241.6 L690.9,242.3 L690.9,243.0 L690.8,243.7 L690.8,244.4 L690.7,245.1 L690.7,245.8 L690.7,246.5 L690.8,247.2 L690.8,247.9 L690.9,248.6 L690.9,249.3 L691.0,250.0 L691.1,250.7 L691.1,251.4 L691.2,252.1 L691.3,252.8 L691.4,253.5 L691.5,254.2 L691.5,254.9 L691.6,255.6 L691.7,256.3 L691.8,257.0 L691.9,257.7 L691.9,258.4 L692.0,259.1 L692.1,259.8 L692.2,260.5 L692.2,261.2 L692.3,261.9 L692.4,262.6 L692.4,263.3 L692.5,264.0 L692.5,264.7 L692.6,265.4 L692.6,266.1 L692.6,266.8 L692.7,267.5 L692.7,268.2 L692.8,268.9 L692.8,269.6 L692.8,270.3 L692.8,271.0 L692.9,271.7 L692.9,272.4 L692.9,273.1 L693.3,273.1 L693.3,272.4 L693.3,271.7 L693.4,271.0 L693.4,270.3 L693.4,269.6 L693.4,268.9 L693.5,268.2 L693.5,267.5 L693.6,266.8 L693.6,266.1 L693.6,265.4 L693.7,264.7 L693.7,264.0 L693.8,263.3 L693.8,262.6 L693.9,261.9 L694.0,261.2 L694.0,260.5 L694.1,259.8 L694.2,259.1 L694.3,258.4 L694.3,257.7 L694.4,257.0 L694.5,256.3 L694.6,255.6 L694.7,254.9 L694.7,254.2 L694.8,253.5 L694.9,252.8 L695.0,252.1 L695.1,251.4 L695.1,250.7 L695.2,250.0 L695.3,249.3 L695.3,248.6 L695.4,247.9 L695.4,247.2 L695.5,246.5 L695.5,245.8 L695.5,245.1 L695.4,244.4 L695.4,243.7 L695.3,243.0 L695.3,242.3 L695.2,241.6 L695.2,240.9 L695.1,240.2 L695.0,239.5 L694.9,238.8 L694.9,238.1 L694.8,237.4 L694.7,236.7 L694.7,236.0 L694.6,235.3 L694.5,234.6 L694.4,233.9 L694.4,233.2 L694.3,232.5 L694.2,231.8 L694.2,231.1 L694.1,230.4 L694.0,229.7 L694.0,229.0 L693.9,228.3 L693.9,227.6 L693.8,226.9 L693.8,226.2 L693.7,225.5 L693.7,224.8 L693.6,224.1 L693.6,223.4 L693.6,222.7 L693.5,222.0 L693.5,221.3 L693.5,220.6 L693.4,219.8 L693.4,219.1 L693.4,218.4 L693.4,217.7 L693.3,217.0 L693.3,216.3 L693.3,215.6 L693.3,214.9 L693.3,214.2 L693.3,213.5 L693.2,212.8 L693.2,212.1 L693.2,211.4 L693.2,210.7 L693.2,210.0 L693.2,209.3 L693.2,208.6 L693.2,207.9 L693.2,207.2 L693.2,206.5 L693.1,205.8 L693.1,205.1 L693.1,204.4 L693.1,203.7 L693.1,203.0 L693.1,202.3 L693.1,201.6 L693.1,200.9 L693.1,200.2 L693.1,199.5 L693.1,198.8 L693.1,198.1 L693.1,197.4 L693.1,196.7 L693.1,196.0 L693.1,195.3 L693.1,194.6 L693.1,193.9 L693.1,193.2 L693.1,192.5 L693.1,191.8 L693.1,191.1 L693.1,190.4 L693.1,189.7 L693.1,189.0 L693.1,188.3 L693.1,187.6 L693.1,186.9 L693.1,186.2 L693.1,185.5 L693.1,184.8 L693.1,184.1 L693.1,183.4 L693.1,182.7 L693.1,182.0 L693.1,181.3 L693.1,180.6 L693.1,179.9 L693.1,179.2 L693.1,178.5 L693.1,177.8 L693.1,177.1 L693.1,176.4 L693.1,175.7 L693.1,175.0 L693.1,174.3 L693.1,173.6 L693.1,172.9 L693.1,172.2 L693.1,171.5 L693.1,170.8 L693.1,170.1 L693.1,169.4 L693.1,168.7 L693.1,168.0 L693.1,167.3 L693.1,166.6Z" fill="#3aa337" stroke="#1a1a1a" stroke-width="1.15" stroke-linejoin="round"/>
<path d="M747.5,54.6 L747.5,55.3 L747.5,56.0 L747.5,56.7 L747.5,57.4 L747.5,58.1 L747.5,58.8 L747.5,59.5 L747.5,60.2 L747.5,60.9 L747.5,61.6 L747.5,62.3 L747.5,63.0 L747.5,63.7 L747.5,64.4 L747.5,65.1 L747.5,65.8 L747.5,66.5 L747.5,67.2 L747.5,67.9 L747.5,68.6 L747.5,69.3 L747.5,70.0 L747.5,70.7 L747.5,71.4 L747.5,72.1 L747.5,72.8 L747.5,73.5 L747.5,74.2 L747.5,74.9 L747.5,75.6 L747.5,76.3 L747.5,77.0 L747.5,77.7 L747.5,78.4 L747.5,79.1 L747.5,79.8 L747.5,80.5 L747.5,81.2 L747.5,81.9 L747.5,82.6 L747.5,83.3 L747.5,84.0 L747.5,84.7 L747.5,85.4 L747.5,86.1 L747.5,86.8 L747.5,87.5 L747.5,88.2 L747.5,88.9 L747.5,89.6 L747.5,90.3 L747.5,91.0 L747.5,91.7 L747.5,92.4 L747.5,93.1 L747.5,93.8 L747.5,94.5 L747.5,95.2 L747.5,95.9 L747.5,96.6 L747.5,97.3 L747.5,98.0 L747.5,98.7 L747.5,99.4 L747.5,100.1 L747.5,100.8 L747.5,101.5 L747.5,102.2 L747.5,102.9 L747.5,103.6 L747.5,104.3 L747.5,105.0 L747.5,105.7 L747.5,106.4 L747.5,107.1 L747.5,107.8 L747.5,108.5 L747.5,109.2 L747.5,109.9 L747.5,110.6 L747.5,111.3 L747.5,112.0 L747.5,112.7 L747.4,113.4 L747.4,114.1 L747.4,114.8 L747.4,115.5 L747.4,116.2 L747.4,116.9 L747.4,117.6 L747.4,118.3 L747.4,119.0 L747.4,119.7 L747.4,120.4 L747.3,121.1 L747.3,121.8 L747.3,122.5 L747.3,123.2 L747.3,123.9 L747.3,124.6 L747.2,125.3 L747.2,126.0 L747.2,126.7 L747.2,127.4 L747.2,128.1 L747.1,128.8 L747.1,129.5 L747.1,130.2 L747.0,130.9 L747.0,131.6 L747.0,132.3 L746.9,133.0 L746.9,133.7 L746.9,134.4 L746.8,135.1 L746.8,135.8 L746.7,136.5 L746.7,137.2 L746.6,137.9 L746.6,138.6 L746.6,139.3 L746.5,140.0 L746.5,140.7 L746.4,141.4 L746.4,142.1 L746.3,142.8 L746.3,143.5 L746.2,144.2 L746.2,144.9 L746.1,145.6 L746.1,146.3 L746.0,147.0 L746.0,147.7 L745.9,148.4 L745.9,149.1 L745.9,149.8 L745.8,150.5 L745.8,151.2 L745.8,151.9 L745.7,152.6 L745.7,153.3 L745.7,154.0 L745.7,154.7 L745.7,155.4 L745.7,156.1 L745.7,156.8 L745.7,157.5 L745.7,158.2 L745.7,158.9 L745.7,159.6 L745.8,160.3 L745.8,161.0 L745.8,161.7 L745.8,162.4 L745.9,163.1 L745.9,163.8 L745.9,164.5 L746.0,165.2 L746.0,165.9 L746.1,166.6 L746.1,167.3 L746.1,168.0 L746.2,168.7 L746.2,169.4 L746.3,170.1 L746.3,170.8 L746.4,171.5 L746.4,172.2 L746.4,172.9 L746.5,173.6 L746.5,174.3 L746.6,175.0 L746.6,175.7 L746.7,176.4 L746.7,177.1 L746.7,177.8 L746.8,178.5 L746.8,179.2 L746.8,179.9 L746.9,180.6 L746.9,181.3 L746.9,182.0 L747.0,182.7 L747.0,183.4 L747.0,184.1 L747.1,184.8 L747.1,185.5 L747.1,186.2 L747.1,186.9 L747.2,187.6 L747.2,188.3 L747.2,189.0 L747.2,189.7 L747.2,190.4 L747.3,191.1 L747.3,191.8 L747.3,192.5 L747.3,193.2 L747.3,193.9 L747.3,194.6 L747.4,195.3 L747.4,196.0 L747.4,196.7 L747.4,197.4 L747.4,198.1 L747.4,198.8 L747.4,199.5 L747.4,200.2 L747.4,200.9 L747.4,201.6 L747.4,202.3 L747.4,203.0 L747.4,203.7 L747.5,204.4 L747.5,205.1 L747.5,205.8 L747.5,206.5 L747.5,207.2 L747.5,207.9 L747.5,208.6 L747.5,209.3 L747.5,210.0 L747.5,210.7 L747.5,211.4 L747.5,212.1 L747.5,212.8 L747.5,213.5 L747.5,214.2 L747.5,214.9 L747.5,215.6 L747.5,216.3 L747.5,217.0 L747.5,217.7 L747.5,218.4 L747.5,219.1 L747.5,219.8 L747.5,220.5 L747.5,221.2 L747.5,221.9 L747.5,222.6 L747.5,222.6 L747.5,221.9 L747.5,221.2 L747.5,220.5 L747.5,219.8 L747.5,219.1 L747.5,218.4 L747.5,217.7 L747.5,217.0 L747.5,216.3 L747.5,215.6 L747.5,214.9 L747.5,214.2 L747.5,213.5 L747.5,212.8 L747.5,212.1 L747.5,211.4 L747.5,210.7 L747.5,210.0 L747.5,209.3 L747.5,208.6 L747.5,207.9 L747.5,207.2 L747.5,206.5 L747.5,205.8 L747.5,205.1 L747.5,204.4 L747.6,203.7 L747.6,203.0 L747.6,202.3 L747.6,201.6 L747.6,200.9 L747.6,200.2 L747.6,199.5 L747.6,198.8 L747.6,198.1 L747.6,197.4 L747.6,196.7 L747.6,196.0 L747.6,195.3 L747.7,194.6 L747.7,193.9 L747.7,193.2 L747.7,192.5 L747.7,191.8 L747.7,191.1 L747.8,190.4 L747.8,189.7 L747.8,189.0 L747.8,188.3 L747.8,187.6 L747.9,186.9 L747.9,186.2 L747.9,185.5 L747.9,184.8 L748.0,184.1 L748.0,183.4 L748.0,182.7 L748.1,182.0 L748.1,181.3 L748.1,180.6 L748.2,179.9 L748.2,179.2 L748.2,178.5 L748.3,177.8 L748.3,177.1 L748.3,176.4 L748.4,175.7 L748.4,175.0 L748.5,174.3 L748.5,173.6 L748.6,172.9 L748.6,172.2 L748.6,171.5 L748.7,170.8 L748.7,170.1 L748.8,169.4 L748.8,168.7 L748.9,168.0 L748.9,167.3 L748.9,166.6 L749.0,165.9 L749.0,165.2 L749.1,164.5 L749.1,163.8 L749.1,163.1 L749.2,162.4 L749.2,161.7 L749.2,161.0 L749.2,160.3 L749.3,159.6 L749.3,158.9 L749.3,158.2 L749.3,157.5 L749.3,156.8 L749.3,156.1 L749.3,155.4 L749.3,154.7 L749.3,154.0 L749.3,153.3 L749.3,152.6 L749.2,151.9 L749.2,151.2 L749.2,150.5 L749.1,149.8 L749.1,149.1 L749.1,148.4 L749.0,147.7 L749.0,147.0 L748.9,146.3 L748.9,145.6 L748.8,144.9 L748.8,144.2 L748.7,143.5 L748.7,142.8 L748.6,142.1 L748.6,141.4 L748.5,140.7 L748.5,140.0 L748.4,139.3 L748.4,138.6 L748.4,137.9 L748.3,137.2 L748.3,136.5 L748.2,135.8 L748.2,135.1 L748.1,134.4 L748.1,133.7 L748.1,133.0 L748.0,132.3 L748.0,131.6 L748.0,130.9 L747.9,130.2 L747.9,129.5 L747.9,128.8 L747.8,128.1 L747.8,127.4 L747.8,126.7 L747.8,126.0 L747.8,125.3 L747.7,124.6 L747.7,123.9 L747.7,123.2 L747.7,122.5 L747.7,121.8 L747.7,121.1 L747.6,120.4 L747.6,119.7 L747.6,119.0 L747.6,118.3 L747.6,117.6 L747.6,116.9 L747.6,116.2 L747.6,115.5 L747.6,114.8 L747.6,114.1 L747.6,113.4 L747.5,112.7 L747.5,112.0 L747.5,111.3 L747.5,110.6 L747.5,109.9 L747.5,109.2 L747.5,108.5 L747.5,107.8 L747.5,107.1 L747.5,106.4 L747.5,105.7 L747.5,105.0 L747.5,104.3 L747.5,103.6 L747.5,102.9 L747.5,102.2 L747.5,101.5 L747.5,100.8 L747.5,100.1 L747.5,99.4 L747.5,98.7 L747.5,98.0 L747.5,97.3 L747.5,96.6 L747.5,95.9 L747.5,95.2 L747.5,94.5 L747.5,93.8 L747.5,93.1 L747.5,92.4 L747.5,91.7 L747.5,91.0 L747.5,90.3 L747.5,89.6 L747.5,88.9 L747.5,88.2 L747.5,87.5 L747.5,86.8 L747.5,86.1 L747.5,85.4 L747.5,84.7 L747.5,84.0 L747.5,83.3 L747.5,82.6 L747.5,81.9 L747.5,81.2 L747.5,80.5 L747.5,79.8 L747.5,79.1 L747.5,78.4 L747.5,77.7 L747.5,77.0 L747.5,76.3 L747.5,75.6 L747.5,74.9 L747.5,74.2 L747.5,73.5 L747.5,72.8 L747.5,72.1 L747.5,71.4 L747.5,70.7 L747.5,70.0 L747.5,69.3 L747.5,68.6 L747.5,67.9 L747.5,67.2 L747.5,66.5 L747.5,65.8 L747.5,65.1 L747.5,64.4 L747.5,63.7 L747.5,63.0 L747.5,62.3 L747.5,61.6 L747.5,60.9 L747.5,60.2 L747.5,59.5 L747.5,58.8 L747.5,58.1 L747.5,57.4 L747.5,56.7 L747.5,56.0 L747.5,55.3 L747.5,54.6Z" fill="#b0de8a" stroke="#1a1a1a" stroke-width="1.15" stroke-linejoin="round"/>
<path d="M761.5,96.6 L761.5,97.3 L761.5,98.0 L761.5,98.7 L761.5,99.4 L761.5,100.1 L761.5,100.8 L761.5,101.5 L761.5,102.2 L761.5,102.9 L761.5,103.6 L761.5,104.3 L761.5,105.0 L761.5,105.7 L761.5,106.4 L761.5,107.1 L761.5,107.8 L761.5,108.5 L761.5,109.2 L761.5,109.9 L761.5,110.7 L761.5,111.4 L761.5,112.1 L761.5,112.8 L761.5,113.5 L761.5,114.2 L761.5,114.9 L761.5,115.6 L761.5,116.3 L761.5,117.0 L761.5,117.7 L761.5,118.4 L761.5,119.1 L761.5,119.8 L761.5,120.5 L761.5,121.2 L761.5,121.9 L761.5,122.6 L761.5,123.3 L761.5,124.0 L761.5,124.7 L761.5,125.4 L761.5,126.1 L761.5,126.8 L761.5,127.5 L761.5,128.2 L761.5,128.9 L761.5,129.6 L761.5,130.3 L761.5,131.0 L761.5,131.7 L761.5,132.4 L761.5,133.1 L761.5,133.8 L761.5,134.5 L761.5,135.2 L761.5,135.9 L761.5,136.6 L761.5,137.4 L761.5,138.1 L761.5,138.8 L761.5,139.5 L761.5,140.2 L761.5,140.9 L761.5,141.6 L761.5,142.3 L761.5,143.0 L761.5,143.7 L761.5,144.4 L761.5,145.1 L761.5,145.8 L761.5,146.5 L761.5,147.2 L761.5,147.9 L761.5,148.6 L761.5,149.3 L761.5,150.0 L761.5,150.7 L761.5,151.4 L761.5,152.1 L761.4,152.8 L761.4,153.5 L761.4,154.2 L761.4,154.9 L761.4,155.6 L761.3,156.3 L761.3,157.0 L761.2,157.7 L761.2,158.4 L761.1,159.1 L761.0,159.8 L760.9,160.5 L760.8,161.2 L760.7,161.9 L760.6,162.6 L760.4,163.3 L760.3,164.0 L760.1,164.8 L759.9,165.5 L759.6,166.2 L759.4,166.9 L759.2,167.6 L758.9,168.3 L758.6,169.0 L758.4,169.7 L758.1,170.4 L757.8,171.1 L757.6,171.8 L757.3,172.5 L757.2,173.2 L757.0,173.9 L756.9,174.6 L756.9,175.3 L757.0,176.0 L757.1,176.7 L757.3,177.4 L757.5,178.1 L757.8,178.8 L758.0,179.5 L758.3,180.2 L758.6,180.9 L758.9,181.6 L759.1,182.3 L759.4,183.0 L759.6,183.7 L759.8,184.4 L760.0,185.1 L760.2,185.8 L760.4,186.5 L760.6,187.2 L760.7,187.9 L760.8,188.6 L760.9,189.3 L761.0,190.0 L761.1,190.7 L761.2,191.5 L761.2,192.2 L761.3,192.9 L761.3,193.6 L761.4,194.3 L761.4,195.0 L761.4,195.7 L761.4,196.4 L761.4,197.1 L761.5,197.8 L761.5,198.5 L761.5,199.2 L761.5,199.9 L761.5,200.6 L761.5,201.3 L761.5,202.0 L761.5,202.7 L761.5,203.4 L761.5,204.1 L761.5,204.8 L761.5,204.8 L761.5,204.1 L761.5,203.4 L761.5,202.7 L761.5,202.0 L761.5,201.3 L761.5,200.6 L761.5,199.9 L761.5,199.2 L761.5,198.5 L761.5,197.8 L761.6,197.1 L761.6,196.4 L761.6,195.7 L761.6,195.0 L761.6,194.3 L761.7,193.6 L761.7,192.9 L761.8,192.2 L761.8,191.5 L761.9,190.7 L762.0,190.0 L762.1,189.3 L762.2,188.6 L762.3,187.9 L762.4,187.2 L762.6,186.5 L762.8,185.8 L763.0,185.1 L763.2,184.4 L763.4,183.7 L763.6,183.0 L763.9,182.3 L764.1,181.6 L764.4,180.9 L764.7,180.2 L765.0,179.5 L765.2,178.8 L765.5,178.1 L765.7,177.4 L765.9,176.7 L766.0,176.0 L766.1,175.3 L766.1,174.6 L766.0,173.9 L765.8,173.2 L765.7,172.5 L765.4,171.8 L765.2,171.1 L764.9,170.4 L764.6,169.7 L764.4,169.0 L764.1,168.3 L763.8,167.6 L763.6,166.9 L763.4,166.2 L763.1,165.5 L762.9,164.8 L762.7,164.0 L762.6,163.3 L762.4,162.6 L762.3,161.9 L762.2,161.2 L762.1,160.5 L762.0,159.8 L761.9,159.1 L761.8,158.4 L761.8,157.7 L761.7,157.0 L761.7,156.3 L761.6,155.6 L761.6,154.9 L761.6,154.2 L761.6,153.5 L761.6,152.8 L761.5,152.1 L761.5,151.4 L761.5,150.7 L761.5,150.0 L761.5,149.3 L761.5,148.6 L761.5,147.9 L761.5,147.2 L761.5,146.5 L761.5,145.8 L761.5,145.1 L761.5,144.4 L761.5,143.7 L761.5,143.0 L761.5,142.3 L761.5,141.6 L761.5,140.9 L761.5,140.2 L761.5,139.5 L761.5,138.8 L761.5,138.1 L761.5,137.4 L761.5,136.6 L761.5,135.9 L761.5,135.2 L761.5,134.5 L761.5,133.8 L761.5,133.1 L761.5,132.4 L761.5,131.7 L761.5,131.0 L761.5,130.3 L761.5,129.6 L761.5,128.9 L761.5,128.2 L761.5,127.5 L761.5,126.8 L761.5,126.1 L761.5,125.4 L761.5,124.7 L761.5,124.0 L761.5,123.3 L761.5,122.6 L761.5,121.9 L761.5,121.2 L761.5,120.5 L761.5,119.8 L761.5,119.1 L761.5,118.4 L761.5,117.7 L761.5,117.0 L761.5,116.3 L761.5,115.6 L761.5,114.9 L761.5,114.2 L761.5,113.5 L761.5,112.8 L761.5,112.1 L761.5,111.4 L761.5,110.7 L761.5,109.9 L761.5,109.2 L761.5,108.5 L761.5,107.8 L761.5,107.1 L761.5,106.4 L761.5,105.7 L761.5,105.0 L761.5,104.3 L761.5,103.6 L761.5,102.9 L761.5,102.2 L761.5,101.5 L761.5,100.8 L761.5,100.1 L761.5,99.4 L761.5,98.7 L761.5,98.0 L761.5,97.3 L761.5,96.6Z" fill="#3aa337" stroke="#1a1a1a" stroke-width="1.15" stroke-linejoin="round"/>
</svg></body></html>
